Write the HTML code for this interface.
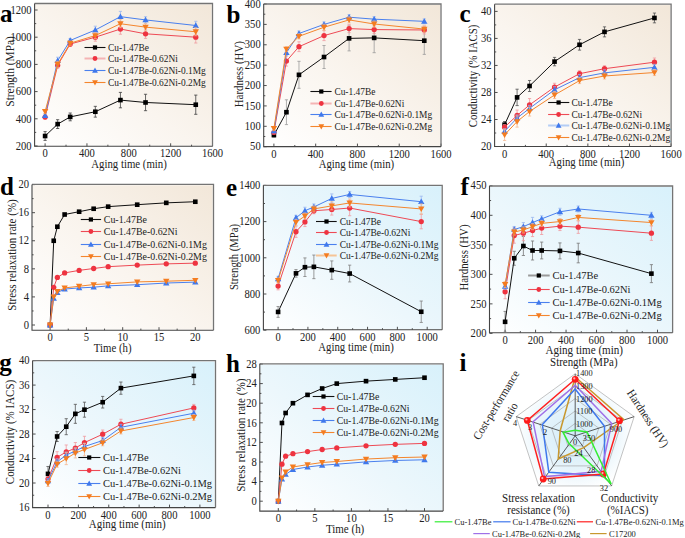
<!DOCTYPE html>
<html><head><meta charset="utf-8"><title>figure</title>
<style>html,body{margin:0;padding:0;background:#fff;width:685px;height:538px;overflow:hidden}svg{display:block}</style>
</head><body><svg width="685" height="538" viewBox="0 0 685 538" font-family='"Liberation Serif", serif'><defs>
<linearGradient id="gtan" x1="0" y1="1" x2="1" y2="0">
  <stop offset="0" stop-color="#ffffff"/>
  <stop offset="0.45" stop-color="#faf5ef"/>
  <stop offset="1" stop-color="#f2e7d9"/>
</linearGradient>
<linearGradient id="gblue" x1="0" y1="1" x2="1" y2="0">
  <stop offset="0" stop-color="#ffffff"/>
  <stop offset="0.45" stop-color="#ecf7fc"/>
  <stop offset="1" stop-color="#d8f1fb"/>
</linearGradient>
<radialGradient id="grad" cx="0.5" cy="0.55" r="0.5">
  <stop offset="0" stop-color="#d2ecf8"/>
  <stop offset="0.6" stop-color="#e6f4fb"/>
  <stop offset="1" stop-color="#ffffff"/>
</radialGradient>
</defs><rect width="685" height="538" fill="#ffffff"/>
<rect x="35.2" y="4.4" width="176.4" height="141.3" fill="url(#gtan)"/>
<line x1="45.1" y1="146.3" x2="45.1" y2="143.3" stroke="#3c3c3c" stroke-width="0.9"/>
<text font-size="10.6" text-anchor="middle" fill="#222222" transform="translate(45.1 157.3) scale(1 1.08)">0</text>
<line x1="86.95" y1="146.3" x2="86.95" y2="143.3" stroke="#3c3c3c" stroke-width="0.9"/>
<text font-size="10.6" text-anchor="middle" fill="#222222" transform="translate(86.95 157.3) scale(1 1.08)">400</text>
<line x1="128.8" y1="146.3" x2="128.8" y2="143.3" stroke="#3c3c3c" stroke-width="0.9"/>
<text font-size="10.6" text-anchor="middle" fill="#222222" transform="translate(128.8 157.3) scale(1 1.08)">800</text>
<line x1="170.65" y1="146.3" x2="170.65" y2="143.3" stroke="#3c3c3c" stroke-width="0.9"/>
<text font-size="10.6" text-anchor="middle" fill="#222222" transform="translate(170.65 157.3) scale(1 1.08)">1200</text>
<line x1="212.5" y1="146.3" x2="212.5" y2="143.3" stroke="#3c3c3c" stroke-width="0.9"/>
<text font-size="10.6" text-anchor="middle" fill="#222222" transform="translate(212.5 157.3) scale(1 1.08)">1600</text>
<line x1="66.03" y1="146.3" x2="66.03" y2="144.7" stroke="#3c3c3c" stroke-width="0.9"/>
<line x1="107.88" y1="146.3" x2="107.88" y2="144.7" stroke="#3c3c3c" stroke-width="0.9"/>
<line x1="149.72" y1="146.3" x2="149.72" y2="144.7" stroke="#3c3c3c" stroke-width="0.9"/>
<line x1="191.57" y1="146.3" x2="191.57" y2="144.7" stroke="#3c3c3c" stroke-width="0.9"/>
<line x1="34.6" y1="146" x2="37.6" y2="146" stroke="#3c3c3c" stroke-width="0.9"/>
<text font-size="10.6" text-anchor="end" fill="#222222" transform="translate(31.6 149.7) scale(1 1.08)">200</text>
<line x1="34.6" y1="118.8" x2="37.6" y2="118.8" stroke="#3c3c3c" stroke-width="0.9"/>
<text font-size="10.6" text-anchor="end" fill="#222222" transform="translate(31.6 122.5) scale(1 1.08)">400</text>
<line x1="34.6" y1="91.6" x2="37.6" y2="91.6" stroke="#3c3c3c" stroke-width="0.9"/>
<text font-size="10.6" text-anchor="end" fill="#222222" transform="translate(31.6 95.3) scale(1 1.08)">600</text>
<line x1="34.6" y1="64.4" x2="37.6" y2="64.4" stroke="#3c3c3c" stroke-width="0.9"/>
<text font-size="10.6" text-anchor="end" fill="#222222" transform="translate(31.6 68.1) scale(1 1.08)">800</text>
<line x1="34.6" y1="37.2" x2="37.6" y2="37.2" stroke="#3c3c3c" stroke-width="0.9"/>
<text font-size="10.6" text-anchor="end" fill="#222222" transform="translate(31.6 40.9) scale(1 1.08)">1000</text>
<line x1="34.6" y1="10" x2="37.6" y2="10" stroke="#3c3c3c" stroke-width="0.9"/>
<text font-size="10.6" text-anchor="end" fill="#222222" transform="translate(31.6 13.7) scale(1 1.08)">1200</text>
<line x1="34.6" y1="132.4" x2="36.2" y2="132.4" stroke="#3c3c3c" stroke-width="0.9"/>
<line x1="34.6" y1="105.2" x2="36.2" y2="105.2" stroke="#3c3c3c" stroke-width="0.9"/>
<line x1="34.6" y1="78" x2="36.2" y2="78" stroke="#3c3c3c" stroke-width="0.9"/>
<line x1="34.6" y1="50.8" x2="36.2" y2="50.8" stroke="#3c3c3c" stroke-width="0.9"/>
<line x1="34.6" y1="23.6" x2="36.2" y2="23.6" stroke="#3c3c3c" stroke-width="0.9"/>
<path d="M34.6 3.5H212.5V146.3" fill="none" stroke="#747474" stroke-width="1.3"/>
<path d="M34.6 3.5V146.3H212.5" fill="none" stroke="#444444" stroke-width="1.1"/>
<path d="M45.1 131.6V140.4M43.5 131.6H46.7M43.5 140.4H46.7" stroke="#404040" stroke-width="0.8" fill="none"/>
<path d="M57.66 119.7V128.5M56.05 119.7H59.26M56.05 128.5H59.26" stroke="#404040" stroke-width="0.8" fill="none"/>
<path d="M70.21 113V120.8M68.61 113H71.81M68.61 120.8H71.81" stroke="#404040" stroke-width="0.8" fill="none"/>
<path d="M95.32 106.33V117.13M93.72 106.33H96.92M93.72 117.13H96.92" stroke="#404040" stroke-width="0.8" fill="none"/>
<path d="M120.43 92.4V107.8M118.83 92.4H122.03M118.83 107.8H122.03" stroke="#404040" stroke-width="0.8" fill="none"/>
<path d="M145.54 94.28V110.68M143.94 94.28H147.14M143.94 110.68H147.14" stroke="#404040" stroke-width="0.8" fill="none"/>
<path d="M195.76 95.1V114.3M194.16 95.1H197.36M194.16 114.3H197.36" stroke="#404040" stroke-width="0.8" fill="none"/>
<polyline points="45.1,136 57.66,124.1 70.21,116.9 95.32,111.73 120.43,100.1 145.54,102.48 195.76,104.7" fill="none" stroke="#111111" stroke-width="1.0" stroke-linejoin="round"/>
<rect x="42.79" y="133.69" width="4.62" height="4.62" fill="#000000"/>
<rect x="55.34" y="121.79" width="4.62" height="4.62" fill="#000000"/>
<rect x="67.9" y="114.59" width="4.62" height="4.62" fill="#000000"/>
<rect x="93.01" y="109.42" width="4.62" height="4.62" fill="#000000"/>
<rect x="118.12" y="97.79" width="4.62" height="4.62" fill="#000000"/>
<rect x="143.23" y="100.17" width="4.62" height="4.62" fill="#000000"/>
<rect x="193.45" y="102.39" width="4.62" height="4.62" fill="#000000"/>
<path d="M45.1 115.1V119.1M43.5 115.1H46.7M43.5 119.1H46.7" stroke="#f09aa0" stroke-width="0.8" fill="none"/>
<path d="M57.66 62.35V68.35M56.05 62.35H59.26M56.05 68.35H59.26" stroke="#f09aa0" stroke-width="0.8" fill="none"/>
<path d="M70.21 41.5V46.5M68.61 41.5H71.81M68.61 46.5H71.81" stroke="#f09aa0" stroke-width="0.8" fill="none"/>
<path d="M95.32 33.2V41.2M93.72 33.2H96.92M93.72 41.2H96.92" stroke="#f09aa0" stroke-width="0.8" fill="none"/>
<path d="M120.43 23.84V34.24M118.83 23.84H122.03M118.83 34.24H122.03" stroke="#f09aa0" stroke-width="0.8" fill="none"/>
<path d="M145.54 29.2V38.4M143.94 29.2H147.14M143.94 38.4H147.14" stroke="#f09aa0" stroke-width="0.8" fill="none"/>
<path d="M195.76 31.4V43M194.16 31.4H197.36M194.16 43H197.36" stroke="#f09aa0" stroke-width="0.8" fill="none"/>
<polyline points="45.1,117.1 57.66,65.35 70.21,44 95.32,37.2 120.43,29.04 145.54,33.8 195.76,37.2" fill="none" stroke="#ee4a55" stroke-width="1.0" stroke-linejoin="round"/>
<circle cx="45.1" cy="117.1" r="2.64" fill="#EE3340"/>
<circle cx="57.66" cy="65.35" r="2.64" fill="#EE3340"/>
<circle cx="70.21" cy="44" r="2.64" fill="#EE3340"/>
<circle cx="95.32" cy="37.2" r="2.64" fill="#EE3340"/>
<circle cx="120.43" cy="29.04" r="2.64" fill="#EE3340"/>
<circle cx="145.54" cy="33.8" r="2.64" fill="#EE3340"/>
<circle cx="195.76" cy="37.2" r="2.64" fill="#EE3340"/>
<path d="M45.1 113.54V117.54M43.5 113.54H46.7M43.5 117.54H46.7" stroke="#9ab8f0" stroke-width="0.8" fill="none"/>
<path d="M57.66 57.23V64.23M56.05 57.23H59.26M56.05 64.23H59.26" stroke="#9ab8f0" stroke-width="0.8" fill="none"/>
<path d="M70.21 38.46V42.46M68.61 38.46H71.81M68.61 42.46H71.81" stroke="#9ab8f0" stroke-width="0.8" fill="none"/>
<path d="M95.32 26.19V33.79M93.72 26.19H96.92M93.72 33.79H96.92" stroke="#9ab8f0" stroke-width="0.8" fill="none"/>
<path d="M120.43 11.36V21.96M118.83 11.36H122.03M118.83 21.96H122.03" stroke="#9ab8f0" stroke-width="0.8" fill="none"/>
<path d="M145.54 16.73V23.13M143.94 16.73H147.14M143.94 23.13H147.14" stroke="#9ab8f0" stroke-width="0.8" fill="none"/>
<path d="M195.76 21.3V29.7M194.16 21.3H197.36M194.16 29.7H197.36" stroke="#9ab8f0" stroke-width="0.8" fill="none"/>
<polyline points="45.1,115.54 57.66,60.73 70.21,40.46 95.32,29.99 120.43,16.66 145.54,19.93 195.76,25.5" fill="none" stroke="#4a80ee" stroke-width="1.0" stroke-linejoin="round"/>
<path d="M45.1 112.35L48.29 117.93L41.91 117.93Z" fill="#3F78EC"/>
<path d="M57.66 57.54L60.84 63.12L54.47 63.12Z" fill="#3F78EC"/>
<path d="M70.21 37.27L73.4 42.86L67.02 42.86Z" fill="#3F78EC"/>
<path d="M95.32 26.8L98.51 32.38L92.13 32.38Z" fill="#3F78EC"/>
<path d="M120.43 13.47L123.62 19.06L117.24 19.06Z" fill="#3F78EC"/>
<path d="M145.54 16.74L148.73 22.32L142.35 22.32Z" fill="#3F78EC"/>
<path d="M195.76 22.31L198.95 27.9L192.57 27.9Z" fill="#3F78EC"/>
<path d="M45.1 109.5V113.5M43.5 109.5H46.7M43.5 113.5H46.7" stroke="#f5b890" stroke-width="0.8" fill="none"/>
<path d="M57.66 61.26V67.26M56.05 61.26H59.26M56.05 67.26H59.26" stroke="#f5b890" stroke-width="0.8" fill="none"/>
<path d="M70.21 41.18V45.18M68.61 41.18H71.81M68.61 45.18H71.81" stroke="#f5b890" stroke-width="0.8" fill="none"/>
<path d="M95.32 32.57V38.57M93.72 32.57H96.92M93.72 38.57H96.92" stroke="#f5b890" stroke-width="0.8" fill="none"/>
<path d="M120.43 19.74V27.74M118.83 19.74H122.03M118.83 27.74H122.03" stroke="#f5b890" stroke-width="0.8" fill="none"/>
<path d="M145.54 23.64V30.64M143.94 23.64H147.14M143.94 30.64H147.14" stroke="#f5b890" stroke-width="0.8" fill="none"/>
<path d="M195.76 27.76V35.76M194.16 27.76H197.36M194.16 35.76H197.36" stroke="#f5b890" stroke-width="0.8" fill="none"/>
<polyline points="45.1,111.5 57.66,64.26 70.21,43.18 95.32,35.57 120.43,23.74 145.54,27.14 195.76,31.76" fill="none" stroke="#f4862e" stroke-width="1.0" stroke-linejoin="round"/>
<path d="M45.1 114.69L48.29 109.1L41.91 109.1Z" fill="#F47C20"/>
<path d="M57.66 67.45L60.84 61.87L54.47 61.87Z" fill="#F47C20"/>
<path d="M70.21 46.37L73.4 40.79L67.02 40.79Z" fill="#F47C20"/>
<path d="M95.32 38.76L98.51 33.18L92.13 33.18Z" fill="#F47C20"/>
<path d="M120.43 26.93L123.62 21.34L117.24 21.34Z" fill="#F47C20"/>
<path d="M145.54 30.33L148.73 24.74L142.35 24.74Z" fill="#F47C20"/>
<path d="M195.76 34.95L198.95 29.37L192.57 29.37Z" fill="#F47C20"/>
<line x1="84.5" y1="47.5" x2="105.5" y2="47.5" stroke="#111111" stroke-width="1.1"/>
<rect x="92.9" y="45.4" width="4.2" height="4.2" fill="#000000"/>
<text font-size="9.4" text-anchor="start" fill="#222222" transform="translate(108 50.7) scale(1 1.08)">Cu-1.47Be</text>
<line x1="84.5" y1="58.5" x2="105.5" y2="58.5" stroke="#f5b4b4" stroke-width="2.0"/>
<circle cx="95" cy="58.5" r="2.4" fill="#EE3340"/>
<text font-size="9.4" text-anchor="start" fill="#222222" transform="translate(108 61.7) scale(1 1.08)">Cu-1.47Be-0.62Ni</text>
<line x1="84.5" y1="70.5" x2="105.5" y2="70.5" stroke="#4a80ee" stroke-width="1.1"/>
<path d="M95 67.6L97.9 72.67L92.1 72.67Z" fill="#3F78EC"/>
<text font-size="9.4" text-anchor="start" fill="#222222" transform="translate(108 73.7) scale(1 1.08)">Cu-1.47Be-0.62Ni-0.1Mg</text>
<line x1="84.5" y1="82.5" x2="105.5" y2="82.5" stroke="#f4862e" stroke-width="1.1"/>
<path d="M95 85.4L97.9 80.33L92.1 80.33Z" fill="#F47C20"/>
<text font-size="9.4" text-anchor="start" fill="#222222" transform="translate(108 85.7) scale(1 1.08)">Cu-1.47Be-0.62Ni-0.2Mg</text>
<text font-size="10.8" text-anchor="middle" fill="#222222" transform="translate(129 167.5) scale(1 1.08)">Aging time (min)</text>
<text font-size="11.4" text-anchor="middle" fill="#222222" transform="translate(9.6 71.4) rotate(-90) scale(1 1.08)" dominant-baseline="central">Strength (MPa)</text>
<rect x="264.3" y="4.9" width="175.8" height="141.1" fill="url(#gtan)"/>
<line x1="273.9" y1="146.6" x2="273.9" y2="143.6" stroke="#3c3c3c" stroke-width="0.9"/>
<text font-size="10.6" text-anchor="middle" fill="#222222" transform="translate(273.9 157.6) scale(1 1.08)">0</text>
<line x1="315.68" y1="146.6" x2="315.68" y2="143.6" stroke="#3c3c3c" stroke-width="0.9"/>
<text font-size="10.6" text-anchor="middle" fill="#222222" transform="translate(315.68 157.6) scale(1 1.08)">400</text>
<line x1="357.45" y1="146.6" x2="357.45" y2="143.6" stroke="#3c3c3c" stroke-width="0.9"/>
<text font-size="10.6" text-anchor="middle" fill="#222222" transform="translate(357.45 157.6) scale(1 1.08)">800</text>
<line x1="399.23" y1="146.6" x2="399.23" y2="143.6" stroke="#3c3c3c" stroke-width="0.9"/>
<text font-size="10.6" text-anchor="middle" fill="#222222" transform="translate(399.23 157.6) scale(1 1.08)">1200</text>
<line x1="441" y1="146.6" x2="441" y2="143.6" stroke="#3c3c3c" stroke-width="0.9"/>
<text font-size="10.6" text-anchor="middle" fill="#222222" transform="translate(441 157.6) scale(1 1.08)">1600</text>
<line x1="294.79" y1="146.6" x2="294.79" y2="145" stroke="#3c3c3c" stroke-width="0.9"/>
<line x1="336.56" y1="146.6" x2="336.56" y2="145" stroke="#3c3c3c" stroke-width="0.9"/>
<line x1="378.34" y1="146.6" x2="378.34" y2="145" stroke="#3c3c3c" stroke-width="0.9"/>
<line x1="420.12" y1="146.6" x2="420.12" y2="145" stroke="#3c3c3c" stroke-width="0.9"/>
<line x1="263.7" y1="146.68" x2="266.7" y2="146.68" stroke="#3c3c3c" stroke-width="0.9"/>
<text font-size="10.6" text-anchor="end" fill="#222222" transform="translate(260.7 150.38) scale(1 1.08)">50</text>
<line x1="263.7" y1="126.3" x2="266.7" y2="126.3" stroke="#3c3c3c" stroke-width="0.9"/>
<text font-size="10.6" text-anchor="end" fill="#222222" transform="translate(260.7 130) scale(1 1.08)">100</text>
<line x1="263.7" y1="105.92" x2="266.7" y2="105.92" stroke="#3c3c3c" stroke-width="0.9"/>
<text font-size="10.6" text-anchor="end" fill="#222222" transform="translate(260.7 109.62) scale(1 1.08)">150</text>
<line x1="263.7" y1="85.54" x2="266.7" y2="85.54" stroke="#3c3c3c" stroke-width="0.9"/>
<text font-size="10.6" text-anchor="end" fill="#222222" transform="translate(260.7 89.24) scale(1 1.08)">200</text>
<line x1="263.7" y1="65.16" x2="266.7" y2="65.16" stroke="#3c3c3c" stroke-width="0.9"/>
<text font-size="10.6" text-anchor="end" fill="#222222" transform="translate(260.7 68.86) scale(1 1.08)">250</text>
<line x1="263.7" y1="44.78" x2="266.7" y2="44.78" stroke="#3c3c3c" stroke-width="0.9"/>
<text font-size="10.6" text-anchor="end" fill="#222222" transform="translate(260.7 48.48) scale(1 1.08)">300</text>
<line x1="263.7" y1="24.4" x2="266.7" y2="24.4" stroke="#3c3c3c" stroke-width="0.9"/>
<text font-size="10.6" text-anchor="end" fill="#222222" transform="translate(260.7 28.1) scale(1 1.08)">350</text>
<line x1="263.7" y1="4.02" x2="266.7" y2="4.02" stroke="#3c3c3c" stroke-width="0.9"/>
<text font-size="10.6" text-anchor="end" fill="#222222" transform="translate(260.7 7.72) scale(1 1.08)">400</text>
<line x1="263.7" y1="136.49" x2="265.3" y2="136.49" stroke="#3c3c3c" stroke-width="0.9"/>
<line x1="263.7" y1="116.11" x2="265.3" y2="116.11" stroke="#3c3c3c" stroke-width="0.9"/>
<line x1="263.7" y1="95.73" x2="265.3" y2="95.73" stroke="#3c3c3c" stroke-width="0.9"/>
<line x1="263.7" y1="75.35" x2="265.3" y2="75.35" stroke="#3c3c3c" stroke-width="0.9"/>
<line x1="263.7" y1="54.97" x2="265.3" y2="54.97" stroke="#3c3c3c" stroke-width="0.9"/>
<line x1="263.7" y1="34.59" x2="265.3" y2="34.59" stroke="#3c3c3c" stroke-width="0.9"/>
<line x1="263.7" y1="14.21" x2="265.3" y2="14.21" stroke="#3c3c3c" stroke-width="0.9"/>
<path d="M263.7 4H441V146.6" fill="none" stroke="#747474" stroke-width="1.3"/>
<path d="M263.7 4V146.6H441" fill="none" stroke="#444444" stroke-width="1.1"/>
<path d="M273.9 133.1V137.1M272.3 133.1H275.5M272.3 137.1H275.5" stroke="#9a9a9a" stroke-width="0.8" fill="none"/>
<path d="M286.43 99.8V124.6M284.83 99.8H288.03M284.83 124.6H288.03" stroke="#9a9a9a" stroke-width="0.8" fill="none"/>
<path d="M298.97 61.32V88.32M297.37 61.32H300.57M297.37 88.32H300.57" stroke="#9a9a9a" stroke-width="0.8" fill="none"/>
<path d="M324.03 45.51V68.51M322.43 45.51H325.63M322.43 68.51H325.63" stroke="#9a9a9a" stroke-width="0.8" fill="none"/>
<path d="M349.1 25.88V50.88M347.5 25.88H350.7M347.5 50.88H350.7" stroke="#9a9a9a" stroke-width="0.8" fill="none"/>
<path d="M374.16 23.09V52.69M372.56 23.09H375.76M372.56 52.69H375.76" stroke="#9a9a9a" stroke-width="0.8" fill="none"/>
<path d="M424.29 27V54.4M422.69 27H425.89M422.69 54.4H425.89" stroke="#9a9a9a" stroke-width="0.8" fill="none"/>
<polyline points="273.9,135.1 286.43,112.2 298.97,74.82 324.03,57.01 349.1,38.38 374.16,37.89 424.29,40.7" fill="none" stroke="#111111" stroke-width="1.0" stroke-linejoin="round"/>
<rect x="271.59" y="132.79" width="4.62" height="4.62" fill="#000000"/>
<rect x="284.12" y="109.89" width="4.62" height="4.62" fill="#000000"/>
<rect x="296.66" y="72.51" width="4.62" height="4.62" fill="#000000"/>
<rect x="321.72" y="54.7" width="4.62" height="4.62" fill="#000000"/>
<rect x="346.79" y="36.07" width="4.62" height="4.62" fill="#000000"/>
<rect x="371.85" y="35.58" width="4.62" height="4.62" fill="#000000"/>
<rect x="421.98" y="38.39" width="4.62" height="4.62" fill="#000000"/>
<path d="M273.9 130.29V134.29M272.3 130.29H275.5M272.3 134.29H275.5" stroke="#f09aa0" stroke-width="0.8" fill="none"/>
<path d="M286.43 56.08V66.08M284.83 56.08H288.03M284.83 66.08H288.03" stroke="#f09aa0" stroke-width="0.8" fill="none"/>
<path d="M298.97 41.8V51.6M297.37 41.8H300.57M297.37 51.6H300.57" stroke="#f09aa0" stroke-width="0.8" fill="none"/>
<path d="M324.03 30.61V40.61M322.43 30.61H325.63M322.43 40.61H325.63" stroke="#f09aa0" stroke-width="0.8" fill="none"/>
<path d="M349.1 24.6V32.6M347.5 24.6H350.7M347.5 32.6H350.7" stroke="#f09aa0" stroke-width="0.8" fill="none"/>
<path d="M374.16 25.58V33.58M372.56 25.58H375.76M372.56 33.58H375.76" stroke="#f09aa0" stroke-width="0.8" fill="none"/>
<path d="M424.29 25.98V33.98M422.69 25.98H425.89M422.69 33.98H425.89" stroke="#f09aa0" stroke-width="0.8" fill="none"/>
<polyline points="273.9,132.29 286.43,61.08 298.97,46.7 324.03,35.61 349.1,28.6 374.16,29.58 424.29,29.98" fill="none" stroke="#ee4a55" stroke-width="1.0" stroke-linejoin="round"/>
<circle cx="273.9" cy="132.29" r="2.64" fill="#EE3340"/>
<circle cx="286.43" cy="61.08" r="2.64" fill="#EE3340"/>
<circle cx="298.97" cy="46.7" r="2.64" fill="#EE3340"/>
<circle cx="324.03" cy="35.61" r="2.64" fill="#EE3340"/>
<circle cx="349.1" cy="28.6" r="2.64" fill="#EE3340"/>
<circle cx="374.16" cy="29.58" r="2.64" fill="#EE3340"/>
<circle cx="424.29" cy="29.98" r="2.64" fill="#EE3340"/>
<path d="M273.9 128.91V132.91M272.3 128.91H275.5M272.3 132.91H275.5" stroke="#9ab8f0" stroke-width="0.8" fill="none"/>
<path d="M286.43 50.23V55.23M284.83 50.23H288.03M284.83 55.23H288.03" stroke="#9ab8f0" stroke-width="0.8" fill="none"/>
<path d="M298.97 30.99V35.99M297.37 30.99H300.57M297.37 35.99H300.57" stroke="#9ab8f0" stroke-width="0.8" fill="none"/>
<path d="M324.03 21.9V26.9M322.43 21.9H325.63M322.43 26.9H325.63" stroke="#9ab8f0" stroke-width="0.8" fill="none"/>
<path d="M349.1 14.69V19.69M347.5 14.69H350.7M347.5 19.69H350.7" stroke="#9ab8f0" stroke-width="0.8" fill="none"/>
<path d="M374.16 16.68V21.68M372.56 16.68H375.76M372.56 21.68H375.76" stroke="#9ab8f0" stroke-width="0.8" fill="none"/>
<path d="M424.29 18.84V23.84M422.69 18.84H425.89M422.69 23.84H425.89" stroke="#9ab8f0" stroke-width="0.8" fill="none"/>
<polyline points="273.9,130.91 286.43,52.73 298.97,33.49 324.03,24.4 349.1,17.19 374.16,19.18 424.29,21.34" fill="none" stroke="#4a80ee" stroke-width="1.0" stroke-linejoin="round"/>
<path d="M273.9 127.72L277.09 133.3L270.71 133.3Z" fill="#3F78EC"/>
<path d="M286.43 49.54L289.62 55.12L283.24 55.12Z" fill="#3F78EC"/>
<path d="M298.97 30.3L302.16 35.88L295.78 35.88Z" fill="#3F78EC"/>
<path d="M324.03 21.21L327.22 26.79L320.84 26.79Z" fill="#3F78EC"/>
<path d="M349.1 14L352.29 19.58L345.91 19.58Z" fill="#3F78EC"/>
<path d="M374.16 15.99L377.35 21.58L370.97 21.58Z" fill="#3F78EC"/>
<path d="M424.29 18.15L427.48 23.74L421.1 23.74Z" fill="#3F78EC"/>
<path d="M273.9 126.5V130.5M272.3 126.5H275.5M272.3 130.5H275.5" stroke="#f5b890" stroke-width="0.8" fill="none"/>
<path d="M286.43 46.7V51.5M284.83 46.7H288.03M284.83 51.5H288.03" stroke="#f5b890" stroke-width="0.8" fill="none"/>
<path d="M298.97 33.8V38.8M297.37 33.8H300.57M297.37 38.8H300.57" stroke="#f5b890" stroke-width="0.8" fill="none"/>
<path d="M324.03 24.25V30.25M322.43 24.25H325.63M322.43 30.25H325.63" stroke="#f5b890" stroke-width="0.8" fill="none"/>
<path d="M349.1 16.92V22.92M347.5 16.92H350.7M347.5 22.92H350.7" stroke="#f5b890" stroke-width="0.8" fill="none"/>
<path d="M374.16 20.99V26.99M372.56 20.99H375.76M372.56 26.99H375.76" stroke="#f5b890" stroke-width="0.8" fill="none"/>
<path d="M424.29 26.09V32.09M422.69 26.09H425.89M422.69 32.09H425.89" stroke="#f5b890" stroke-width="0.8" fill="none"/>
<polyline points="273.9,128.5 286.43,49.1 298.97,36.3 324.03,27.25 349.1,19.92 374.16,23.99 424.29,29.09" fill="none" stroke="#f4862e" stroke-width="1.0" stroke-linejoin="round"/>
<path d="M273.9 131.69L277.09 126.11L270.71 126.11Z" fill="#F47C20"/>
<path d="M286.43 52.29L289.62 46.71L283.24 46.71Z" fill="#F47C20"/>
<path d="M298.97 39.49L302.16 33.91L295.78 33.91Z" fill="#F47C20"/>
<path d="M324.03 30.44L327.22 24.86L320.84 24.86Z" fill="#F47C20"/>
<path d="M349.1 23.11L352.29 17.52L345.91 17.52Z" fill="#F47C20"/>
<path d="M374.16 27.18L377.35 21.6L370.97 21.6Z" fill="#F47C20"/>
<path d="M424.29 32.28L427.48 26.69L421.1 26.69Z" fill="#F47C20"/>
<line x1="310.4" y1="91.5" x2="331.6" y2="91.5" stroke="#111111" stroke-width="1.1"/>
<rect x="319.2" y="89.4" width="4.2" height="4.2" fill="#000000"/>
<text font-size="9.4" text-anchor="start" fill="#222222" transform="translate(334.4 94.7) scale(1 1.08)">Cu-1.47Be</text>
<line x1="310.4" y1="103.5" x2="331.6" y2="103.5" stroke="#f5b4b4" stroke-width="2.0"/>
<circle cx="321.3" cy="103.5" r="2.4" fill="#EE3340"/>
<text font-size="9.4" text-anchor="start" fill="#222222" transform="translate(334.4 106.7) scale(1 1.08)">Cu-1.47Be-0.62Ni</text>
<line x1="310.4" y1="114.5" x2="331.6" y2="114.5" stroke="#4a80ee" stroke-width="1.1"/>
<path d="M321.3 111.6L324.2 116.67L318.4 116.67Z" fill="#3F78EC"/>
<text font-size="9.4" text-anchor="start" fill="#222222" transform="translate(334.4 117.7) scale(1 1.08)">Cu-1.47Be-0.62Ni-0.1Mg</text>
<line x1="310.4" y1="126.5" x2="331.6" y2="126.5" stroke="#f4862e" stroke-width="1.1"/>
<path d="M321.3 129.4L324.2 124.33L318.4 124.33Z" fill="#F47C20"/>
<text font-size="9.4" text-anchor="start" fill="#222222" transform="translate(334.4 129.7) scale(1 1.08)">Cu-1.47Be-0.62Ni-0.2Mg</text>
<text font-size="10.8" text-anchor="middle" fill="#222222" transform="translate(356.4 167.5) scale(1 1.08)">Aging time (min)</text>
<text font-size="10.9" text-anchor="middle" fill="#222222" transform="translate(238.4 74.2) rotate(-90) scale(1 1.08)" dominant-baseline="central">Hardness (HV)</text>
<rect x="495.2" y="5.1" width="175" height="140.8" fill="url(#gtan)"/>
<line x1="504.6" y1="146.5" x2="504.6" y2="143.5" stroke="#3c3c3c" stroke-width="0.9"/>
<text font-size="10.6" text-anchor="middle" fill="#222222" transform="translate(504.6 157.5) scale(1 1.08)">0</text>
<line x1="546.22" y1="146.5" x2="546.22" y2="143.5" stroke="#3c3c3c" stroke-width="0.9"/>
<text font-size="10.6" text-anchor="middle" fill="#222222" transform="translate(546.22 157.5) scale(1 1.08)">400</text>
<line x1="587.85" y1="146.5" x2="587.85" y2="143.5" stroke="#3c3c3c" stroke-width="0.9"/>
<text font-size="10.6" text-anchor="middle" fill="#222222" transform="translate(587.85 157.5) scale(1 1.08)">800</text>
<line x1="629.47" y1="146.5" x2="629.47" y2="143.5" stroke="#3c3c3c" stroke-width="0.9"/>
<text font-size="10.6" text-anchor="middle" fill="#222222" transform="translate(629.47 157.5) scale(1 1.08)">1200</text>
<line x1="671.1" y1="146.5" x2="671.1" y2="143.5" stroke="#3c3c3c" stroke-width="0.9"/>
<text font-size="10.6" text-anchor="middle" fill="#222222" transform="translate(671.1 157.5) scale(1 1.08)">1600</text>
<line x1="525.41" y1="146.5" x2="525.41" y2="144.9" stroke="#3c3c3c" stroke-width="0.9"/>
<line x1="567.04" y1="146.5" x2="567.04" y2="144.9" stroke="#3c3c3c" stroke-width="0.9"/>
<line x1="608.66" y1="146.5" x2="608.66" y2="144.9" stroke="#3c3c3c" stroke-width="0.9"/>
<line x1="650.28" y1="146.5" x2="650.28" y2="144.9" stroke="#3c3c3c" stroke-width="0.9"/>
<line x1="494.6" y1="146.52" x2="497.6" y2="146.52" stroke="#3c3c3c" stroke-width="0.9"/>
<text font-size="10.6" text-anchor="end" fill="#222222" transform="translate(491.6 150.22) scale(1 1.08)">20</text>
<line x1="494.6" y1="119.5" x2="497.6" y2="119.5" stroke="#3c3c3c" stroke-width="0.9"/>
<text font-size="10.6" text-anchor="end" fill="#222222" transform="translate(491.6 123.2) scale(1 1.08)">24</text>
<line x1="494.6" y1="92.47" x2="497.6" y2="92.47" stroke="#3c3c3c" stroke-width="0.9"/>
<text font-size="10.6" text-anchor="end" fill="#222222" transform="translate(491.6 96.17) scale(1 1.08)">28</text>
<line x1="494.6" y1="65.45" x2="497.6" y2="65.45" stroke="#3c3c3c" stroke-width="0.9"/>
<text font-size="10.6" text-anchor="end" fill="#222222" transform="translate(491.6 69.15) scale(1 1.08)">32</text>
<line x1="494.6" y1="38.42" x2="497.6" y2="38.42" stroke="#3c3c3c" stroke-width="0.9"/>
<text font-size="10.6" text-anchor="end" fill="#222222" transform="translate(491.6 42.12) scale(1 1.08)">36</text>
<line x1="494.6" y1="11.4" x2="497.6" y2="11.4" stroke="#3c3c3c" stroke-width="0.9"/>
<text font-size="10.6" text-anchor="end" fill="#222222" transform="translate(491.6 15.1) scale(1 1.08)">40</text>
<line x1="494.6" y1="133.01" x2="496.2" y2="133.01" stroke="#3c3c3c" stroke-width="0.9"/>
<line x1="494.6" y1="105.98" x2="496.2" y2="105.98" stroke="#3c3c3c" stroke-width="0.9"/>
<line x1="494.6" y1="78.96" x2="496.2" y2="78.96" stroke="#3c3c3c" stroke-width="0.9"/>
<line x1="494.6" y1="51.94" x2="496.2" y2="51.94" stroke="#3c3c3c" stroke-width="0.9"/>
<line x1="494.6" y1="24.91" x2="496.2" y2="24.91" stroke="#3c3c3c" stroke-width="0.9"/>
<path d="M494.6 4.2H671.1V146.5" fill="none" stroke="#747474" stroke-width="1.3"/>
<path d="M494.6 4.2V146.5H671.1" fill="none" stroke="#444444" stroke-width="1.1"/>
<path d="M504.6 121.5V127.9M503 121.5H506.2M503 127.9H506.2" stroke="#505050" stroke-width="0.8" fill="none"/>
<path d="M517.09 89.2V105.6M515.49 89.2H518.69M515.49 105.6H518.69" stroke="#505050" stroke-width="0.8" fill="none"/>
<path d="M529.57 80.49V91.49M527.97 80.49H531.17M527.97 91.49H531.17" stroke="#505050" stroke-width="0.8" fill="none"/>
<path d="M554.55 57.4V65.8M552.95 57.4H556.15M552.95 65.8H556.15" stroke="#505050" stroke-width="0.8" fill="none"/>
<path d="M579.52 39.42V50.12M577.92 39.42H581.12M577.92 50.12H581.12" stroke="#505050" stroke-width="0.8" fill="none"/>
<path d="M604.5 26.87V36.87M602.9 26.87H606.1M602.9 36.87H606.1" stroke="#505050" stroke-width="0.8" fill="none"/>
<path d="M654.45 13.05V22.85M652.85 13.05H656.05M652.85 22.85H656.05" stroke="#505050" stroke-width="0.8" fill="none"/>
<polyline points="504.6,124.7 517.09,97.4 529.57,85.99 554.55,61.6 579.52,44.77 604.5,31.87 654.45,17.95" fill="none" stroke="#111111" stroke-width="1.0" stroke-linejoin="round"/>
<rect x="502.29" y="122.39" width="4.62" height="4.62" fill="#000000"/>
<rect x="514.78" y="95.09" width="4.62" height="4.62" fill="#000000"/>
<rect x="527.26" y="83.68" width="4.62" height="4.62" fill="#000000"/>
<rect x="552.24" y="59.29" width="4.62" height="4.62" fill="#000000"/>
<rect x="577.21" y="42.46" width="4.62" height="4.62" fill="#000000"/>
<rect x="602.19" y="29.56" width="4.62" height="4.62" fill="#000000"/>
<rect x="652.14" y="15.64" width="4.62" height="4.62" fill="#000000"/>
<path d="M504.6 124.63V129.63M503 124.63H506.2M503 129.63H506.2" stroke="#f09aa0" stroke-width="0.8" fill="none"/>
<path d="M517.09 110.04V120.84M515.49 110.04H518.69M515.49 120.84H518.69" stroke="#f09aa0" stroke-width="0.8" fill="none"/>
<path d="M529.57 98.54V111.14M527.97 98.54H531.17M527.97 111.14H531.17" stroke="#f09aa0" stroke-width="0.8" fill="none"/>
<path d="M554.55 83.27V90.87M552.95 83.27H556.15M552.95 90.87H556.15" stroke="#f09aa0" stroke-width="0.8" fill="none"/>
<path d="M579.52 70.69V76.69M577.92 70.69H581.12M577.92 76.69H581.12" stroke="#f09aa0" stroke-width="0.8" fill="none"/>
<path d="M604.5 65.69V71.69M602.9 65.69H606.1M602.9 71.69H606.1" stroke="#f09aa0" stroke-width="0.8" fill="none"/>
<path d="M654.45 58.01V66.41M652.85 58.01H656.05M652.85 66.41H656.05" stroke="#f09aa0" stroke-width="0.8" fill="none"/>
<polyline points="504.6,127.13 517.09,115.44 529.57,104.84 554.55,87.07 579.52,73.69 604.5,68.69 654.45,62.21" fill="none" stroke="#ee4a55" stroke-width="1.0" stroke-linejoin="round"/>
<circle cx="504.6" cy="127.13" r="2.64" fill="#EE3340"/>
<circle cx="517.09" cy="115.44" r="2.64" fill="#EE3340"/>
<circle cx="529.57" cy="104.84" r="2.64" fill="#EE3340"/>
<circle cx="554.55" cy="87.07" r="2.64" fill="#EE3340"/>
<circle cx="579.52" cy="73.69" r="2.64" fill="#EE3340"/>
<circle cx="604.5" cy="68.69" r="2.64" fill="#EE3340"/>
<circle cx="654.45" cy="62.21" r="2.64" fill="#EE3340"/>
<path d="M504.6 128.82V133.82M503 128.82H506.2M503 133.82H506.2" stroke="#9ab8f0" stroke-width="0.8" fill="none"/>
<path d="M517.09 115.01V121.01M515.49 115.01H518.69M515.49 121.01H518.69" stroke="#9ab8f0" stroke-width="0.8" fill="none"/>
<path d="M529.57 105.35V111.35M527.97 105.35H531.17M527.97 111.35H531.17" stroke="#9ab8f0" stroke-width="0.8" fill="none"/>
<path d="M554.55 86.77V92.77M552.95 86.77H556.15M552.95 92.77H556.15" stroke="#9ab8f0" stroke-width="0.8" fill="none"/>
<path d="M579.52 74.61V80.61M577.92 74.61H581.12M577.92 80.61H581.12" stroke="#9ab8f0" stroke-width="0.8" fill="none"/>
<path d="M604.5 69.88V75.88M602.9 69.88H606.1M602.9 75.88H606.1" stroke="#9ab8f0" stroke-width="0.8" fill="none"/>
<path d="M654.45 64.34V70.34M652.85 64.34H656.05M652.85 70.34H656.05" stroke="#9ab8f0" stroke-width="0.8" fill="none"/>
<polyline points="504.6,131.32 517.09,118.01 529.57,108.35 554.55,89.77 579.52,77.61 604.5,72.88 654.45,67.34" fill="none" stroke="#4a80ee" stroke-width="1.0" stroke-linejoin="round"/>
<path d="M504.6 128.13L507.79 133.71L501.41 133.71Z" fill="#3F78EC"/>
<path d="M517.09 114.82L520.28 120.4L513.9 120.4Z" fill="#3F78EC"/>
<path d="M529.57 105.16L532.76 110.74L526.38 110.74Z" fill="#3F78EC"/>
<path d="M554.55 86.58L557.74 92.16L551.36 92.16Z" fill="#3F78EC"/>
<path d="M579.52 74.42L582.71 80L576.33 80Z" fill="#3F78EC"/>
<path d="M604.5 69.69L607.69 75.27L601.31 75.27Z" fill="#3F78EC"/>
<path d="M654.45 64.15L657.64 69.73L651.26 69.73Z" fill="#3F78EC"/>
<path d="M504.6 129.23V140.43M503 129.23H506.2M503 140.43H506.2" stroke="#f5b890" stroke-width="0.8" fill="none"/>
<path d="M517.09 115.92V127.12M515.49 115.92H518.69M515.49 127.12H518.69" stroke="#f5b890" stroke-width="0.8" fill="none"/>
<path d="M529.57 107.02V116.02M527.97 107.02H531.17M527.97 116.02H531.17" stroke="#f5b890" stroke-width="0.8" fill="none"/>
<path d="M554.55 91.47V98.47M552.95 91.47H556.15M552.95 98.47H556.15" stroke="#f5b890" stroke-width="0.8" fill="none"/>
<path d="M579.52 77.58V83.58M577.92 77.58H581.12M577.92 83.58H581.12" stroke="#f5b890" stroke-width="0.8" fill="none"/>
<path d="M604.5 72.99V78.99M602.9 72.99H606.1M602.9 78.99H606.1" stroke="#f5b890" stroke-width="0.8" fill="none"/>
<path d="M654.45 69.54V75.54M652.85 69.54H656.05M652.85 75.54H656.05" stroke="#f5b890" stroke-width="0.8" fill="none"/>
<polyline points="504.6,134.83 517.09,121.52 529.57,111.52 554.55,94.97 579.52,80.58 604.5,75.99 654.45,72.54" fill="none" stroke="#f4862e" stroke-width="1.0" stroke-linejoin="round"/>
<path d="M504.6 138.02L507.79 132.44L501.41 132.44Z" fill="#F47C20"/>
<path d="M517.09 124.71L520.28 119.13L513.9 119.13Z" fill="#F47C20"/>
<path d="M529.57 114.71L532.76 109.13L526.38 109.13Z" fill="#F47C20"/>
<path d="M554.55 98.16L557.74 92.58L551.36 92.58Z" fill="#F47C20"/>
<path d="M579.52 83.77L582.71 78.19L576.33 78.19Z" fill="#F47C20"/>
<path d="M604.5 79.18L607.69 73.59L601.31 73.59Z" fill="#F47C20"/>
<path d="M654.45 75.73L657.64 70.15L651.26 70.15Z" fill="#F47C20"/>
<line x1="548.1" y1="102.5" x2="569.3" y2="102.5" stroke="#111111" stroke-width="1.1"/>
<rect x="556.5" y="100.4" width="4.2" height="4.2" fill="#000000"/>
<text font-size="9.5" text-anchor="start" fill="#222222" transform="translate(571.4 105.73) scale(1 1.08)">Cu-1.47Be</text>
<line x1="548.1" y1="114.5" x2="569.3" y2="114.5" stroke="#ee4a55" stroke-width="1.1"/>
<circle cx="558.6" cy="114.5" r="2.4" fill="#EE3340"/>
<text font-size="9.5" text-anchor="start" fill="#222222" transform="translate(571.4 117.73) scale(1 1.08)">Cu-1.47Be-0.62Ni</text>
<line x1="548.1" y1="125.5" x2="569.3" y2="125.5" stroke="#b4cdf5" stroke-width="2.0"/>
<path d="M558.6 122.6L561.5 127.67L555.7 127.67Z" fill="#3F78EC"/>
<text font-size="9.5" text-anchor="start" fill="#222222" transform="translate(571.4 128.73) scale(1 1.08)">Cu-1.47Be-0.62Ni-0.1Mg</text>
<line x1="548.1" y1="137.5" x2="569.3" y2="137.5" stroke="#f4862e" stroke-width="1.1"/>
<path d="M558.6 140.4L561.5 135.32L555.7 135.32Z" fill="#F47C20"/>
<text font-size="9.5" text-anchor="start" fill="#222222" transform="translate(571.4 140.73) scale(1 1.08)">Cu-1.47Be-0.62Ni-0.2Mg</text>
<text font-size="10.8" text-anchor="middle" fill="#222222" transform="translate(586.5 166.2) scale(1 1.08)">Aging time (min)</text>
<text font-size="10.8" text-anchor="middle" fill="#222222" transform="translate(472.8 75.9) rotate(-90) scale(1 1.08)" dominant-baseline="central">Conductivity (% IACS)</text>
<rect x="32.6" y="185.3" width="180" height="144.3" fill="url(#gtan)"/>
<line x1="50.1" y1="330.2" x2="50.1" y2="327.2" stroke="#3c3c3c" stroke-width="0.9"/>
<text font-size="10.6" text-anchor="middle" fill="#222222" transform="translate(50.1 341.2) scale(1 1.08)">0</text>
<line x1="86.4" y1="330.2" x2="86.4" y2="327.2" stroke="#3c3c3c" stroke-width="0.9"/>
<text font-size="10.6" text-anchor="middle" fill="#222222" transform="translate(86.4 341.2) scale(1 1.08)">5</text>
<line x1="122.7" y1="330.2" x2="122.7" y2="327.2" stroke="#3c3c3c" stroke-width="0.9"/>
<text font-size="10.6" text-anchor="middle" fill="#222222" transform="translate(122.7 341.2) scale(1 1.08)">10</text>
<line x1="159" y1="330.2" x2="159" y2="327.2" stroke="#3c3c3c" stroke-width="0.9"/>
<text font-size="10.6" text-anchor="middle" fill="#222222" transform="translate(159 341.2) scale(1 1.08)">15</text>
<line x1="195.3" y1="330.2" x2="195.3" y2="327.2" stroke="#3c3c3c" stroke-width="0.9"/>
<text font-size="10.6" text-anchor="middle" fill="#222222" transform="translate(195.3 341.2) scale(1 1.08)">20</text>
<line x1="68.25" y1="330.2" x2="68.25" y2="328.6" stroke="#3c3c3c" stroke-width="0.9"/>
<line x1="104.55" y1="330.2" x2="104.55" y2="328.6" stroke="#3c3c3c" stroke-width="0.9"/>
<line x1="140.85" y1="330.2" x2="140.85" y2="328.6" stroke="#3c3c3c" stroke-width="0.9"/>
<line x1="177.15" y1="330.2" x2="177.15" y2="328.6" stroke="#3c3c3c" stroke-width="0.9"/>
<line x1="32" y1="325" x2="35" y2="325" stroke="#3c3c3c" stroke-width="0.9"/>
<text font-size="10.6" text-anchor="end" fill="#222222" transform="translate(29 328.7) scale(1 1.08)">0</text>
<line x1="32" y1="296.92" x2="35" y2="296.92" stroke="#3c3c3c" stroke-width="0.9"/>
<text font-size="10.6" text-anchor="end" fill="#222222" transform="translate(29 300.62) scale(1 1.08)">4</text>
<line x1="32" y1="268.84" x2="35" y2="268.84" stroke="#3c3c3c" stroke-width="0.9"/>
<text font-size="10.6" text-anchor="end" fill="#222222" transform="translate(29 272.54) scale(1 1.08)">8</text>
<line x1="32" y1="240.76" x2="35" y2="240.76" stroke="#3c3c3c" stroke-width="0.9"/>
<text font-size="10.6" text-anchor="end" fill="#222222" transform="translate(29 244.46) scale(1 1.08)">12</text>
<line x1="32" y1="212.68" x2="35" y2="212.68" stroke="#3c3c3c" stroke-width="0.9"/>
<text font-size="10.6" text-anchor="end" fill="#222222" transform="translate(29 216.38) scale(1 1.08)">16</text>
<line x1="32" y1="184.6" x2="35" y2="184.6" stroke="#3c3c3c" stroke-width="0.9"/>
<text font-size="10.6" text-anchor="end" fill="#222222" transform="translate(29 188.3) scale(1 1.08)">20</text>
<line x1="32" y1="310.96" x2="33.6" y2="310.96" stroke="#3c3c3c" stroke-width="0.9"/>
<line x1="32" y1="282.88" x2="33.6" y2="282.88" stroke="#3c3c3c" stroke-width="0.9"/>
<line x1="32" y1="254.8" x2="33.6" y2="254.8" stroke="#3c3c3c" stroke-width="0.9"/>
<line x1="32" y1="226.72" x2="33.6" y2="226.72" stroke="#3c3c3c" stroke-width="0.9"/>
<line x1="32" y1="198.64" x2="33.6" y2="198.64" stroke="#3c3c3c" stroke-width="0.9"/>
<path d="M32 184.4H213.5V330.2" fill="none" stroke="#747474" stroke-width="1.3"/>
<path d="M32 184.4V330.2H213.5" fill="none" stroke="#444444" stroke-width="1.1"/>
<polyline points="50.1,325 53.73,240.76 57.36,226.72 64.62,214.51 79.14,211.7 93.66,208.75 108.18,206.64 137.22,204.68 166.26,202.85 195.3,201.73" fill="none" stroke="#111111" stroke-width="1.0" stroke-linejoin="round"/>
<rect x="47.79" y="322.69" width="4.62" height="4.62" fill="#000000"/>
<rect x="51.42" y="238.45" width="4.62" height="4.62" fill="#000000"/>
<rect x="55.05" y="224.41" width="4.62" height="4.62" fill="#000000"/>
<rect x="62.31" y="212.2" width="4.62" height="4.62" fill="#000000"/>
<rect x="76.83" y="209.39" width="4.62" height="4.62" fill="#000000"/>
<rect x="91.35" y="206.44" width="4.62" height="4.62" fill="#000000"/>
<rect x="105.87" y="204.33" width="4.62" height="4.62" fill="#000000"/>
<rect x="134.91" y="202.37" width="4.62" height="4.62" fill="#000000"/>
<rect x="163.95" y="200.54" width="4.62" height="4.62" fill="#000000"/>
<rect x="192.99" y="199.42" width="4.62" height="4.62" fill="#000000"/>
<polyline points="50.1,325 53.73,287.37 57.36,277.4 64.62,272.91 79.14,270.38 93.66,268.49 108.18,266.66 137.22,265.12 166.26,263.86 195.3,263.15" fill="none" stroke="#ee4a55" stroke-width="1.0" stroke-linejoin="round"/>
<circle cx="50.1" cy="325" r="2.64" fill="#EE3340"/>
<circle cx="53.73" cy="287.37" r="2.64" fill="#EE3340"/>
<circle cx="57.36" cy="277.4" r="2.64" fill="#EE3340"/>
<circle cx="64.62" cy="272.91" r="2.64" fill="#EE3340"/>
<circle cx="79.14" cy="270.38" r="2.64" fill="#EE3340"/>
<circle cx="93.66" cy="268.49" r="2.64" fill="#EE3340"/>
<circle cx="108.18" cy="266.66" r="2.64" fill="#EE3340"/>
<circle cx="137.22" cy="265.12" r="2.64" fill="#EE3340"/>
<circle cx="166.26" cy="263.86" r="2.64" fill="#EE3340"/>
<circle cx="195.3" cy="263.15" r="2.64" fill="#EE3340"/>
<polyline points="50.1,325 53.73,298.39 57.36,292.57 64.62,289.06 79.14,287.93 93.66,287.23 108.18,285.83 137.22,284.71 166.26,283.02 195.3,282.11" fill="none" stroke="#4a80ee" stroke-width="1.0" stroke-linejoin="round"/>
<path d="M50.1 321.81L53.29 327.39L46.91 327.39Z" fill="#3F78EC"/>
<path d="M53.73 295.2L56.92 300.79L50.54 300.79Z" fill="#3F78EC"/>
<path d="M57.36 289.38L60.55 294.96L54.17 294.96Z" fill="#3F78EC"/>
<path d="M64.62 285.87L67.81 291.45L61.43 291.45Z" fill="#3F78EC"/>
<path d="M79.14 284.74L82.33 290.33L75.95 290.33Z" fill="#3F78EC"/>
<path d="M93.66 284.04L96.85 289.62L90.47 289.62Z" fill="#3F78EC"/>
<path d="M108.18 282.64L111.37 288.22L104.99 288.22Z" fill="#3F78EC"/>
<path d="M137.22 281.52L140.41 287.1L134.03 287.1Z" fill="#3F78EC"/>
<path d="M166.26 279.83L169.45 285.41L163.07 285.41Z" fill="#3F78EC"/>
<path d="M195.3 278.92L198.49 284.5L192.11 284.5Z" fill="#3F78EC"/>
<polyline points="50.1,325 53.73,296.78 57.36,291.44 64.62,287.93 79.14,286.25 93.66,284.56 108.18,283.79 137.22,281.9 166.26,281.2 195.3,280.28" fill="none" stroke="#f4862e" stroke-width="1.0" stroke-linejoin="round"/>
<path d="M50.1 328.19L53.29 322.61L46.91 322.61Z" fill="#F47C20"/>
<path d="M53.73 299.97L56.92 294.39L50.54 294.39Z" fill="#F47C20"/>
<path d="M57.36 294.63L60.55 289.05L54.17 289.05Z" fill="#F47C20"/>
<path d="M64.62 291.12L67.81 285.54L61.43 285.54Z" fill="#F47C20"/>
<path d="M79.14 289.44L82.33 283.86L75.95 283.86Z" fill="#F47C20"/>
<path d="M93.66 287.75L96.85 282.17L90.47 282.17Z" fill="#F47C20"/>
<path d="M108.18 286.98L111.37 281.4L104.99 281.4Z" fill="#F47C20"/>
<path d="M137.22 285.09L140.41 279.5L134.03 279.5Z" fill="#F47C20"/>
<path d="M166.26 284.39L169.45 278.8L163.07 278.8Z" fill="#F47C20"/>
<path d="M195.3 283.47L198.49 277.89L192.11 277.89Z" fill="#F47C20"/>
<line x1="80.8" y1="219.5" x2="101.1" y2="219.5" stroke="#111111" stroke-width="1.1"/>
<rect x="88.8" y="217.4" width="4.2" height="4.2" fill="#000000"/>
<text font-size="9.9" text-anchor="start" fill="#222222" transform="translate(103.8 222.87) scale(1 1.08)">Cu-1.47Be</text>
<line x1="80.8" y1="231.5" x2="101.1" y2="231.5" stroke="#ee4a55" stroke-width="1.1"/>
<circle cx="90.9" cy="231.5" r="2.4" fill="#EE3340"/>
<text font-size="9.9" text-anchor="start" fill="#222222" transform="translate(103.8 234.87) scale(1 1.08)">Cu-1.47Be-0.62Ni</text>
<line x1="80.8" y1="244.5" x2="101.1" y2="244.5" stroke="#4a80ee" stroke-width="1.1"/>
<path d="M90.9 241.6L93.8 246.68L88 246.68Z" fill="#3F78EC"/>
<text font-size="9.9" text-anchor="start" fill="#222222" transform="translate(103.8 247.87) scale(1 1.08)">Cu-1.47Be-0.62Ni-0.1Mg</text>
<line x1="80.8" y1="256.5" x2="101.1" y2="256.5" stroke="#f4862e" stroke-width="1.1"/>
<path d="M90.9 259.4L93.8 254.32L88 254.32Z" fill="#F47C20"/>
<text font-size="9.9" text-anchor="start" fill="#222222" transform="translate(103.8 259.87) scale(1 1.08)">Cu-1.47Be-0.62Ni-0.2Mg</text>
<text font-size="10.8" text-anchor="middle" fill="#222222" transform="translate(112.7 352) scale(1 1.08)">Time (h)</text>
<text font-size="11" text-anchor="middle" fill="#222222" transform="translate(11.8 255) rotate(-90) scale(1 1.08)" dominant-baseline="central">Stress relaxation rate (%)</text>
<rect x="264" y="186.2" width="177.3" height="143" fill="url(#gblue)"/>
<line x1="278.1" y1="329.8" x2="278.1" y2="326.8" stroke="#3c3c3c" stroke-width="0.9"/>
<text font-size="10.6" text-anchor="middle" fill="#222222" transform="translate(278.1 340.8) scale(1 1.08)">0</text>
<line x1="307.92" y1="329.8" x2="307.92" y2="326.8" stroke="#3c3c3c" stroke-width="0.9"/>
<text font-size="10.6" text-anchor="middle" fill="#222222" transform="translate(307.92 340.8) scale(1 1.08)">200</text>
<line x1="337.74" y1="329.8" x2="337.74" y2="326.8" stroke="#3c3c3c" stroke-width="0.9"/>
<text font-size="10.6" text-anchor="middle" fill="#222222" transform="translate(337.74 340.8) scale(1 1.08)">400</text>
<line x1="367.56" y1="329.8" x2="367.56" y2="326.8" stroke="#3c3c3c" stroke-width="0.9"/>
<text font-size="10.6" text-anchor="middle" fill="#222222" transform="translate(367.56 340.8) scale(1 1.08)">600</text>
<line x1="397.38" y1="329.8" x2="397.38" y2="326.8" stroke="#3c3c3c" stroke-width="0.9"/>
<text font-size="10.6" text-anchor="middle" fill="#222222" transform="translate(397.38 340.8) scale(1 1.08)">800</text>
<line x1="427.2" y1="329.8" x2="427.2" y2="326.8" stroke="#3c3c3c" stroke-width="0.9"/>
<text font-size="10.6" text-anchor="middle" fill="#222222" transform="translate(427.2 340.8) scale(1 1.08)">1000</text>
<line x1="293.01" y1="329.8" x2="293.01" y2="328.2" stroke="#3c3c3c" stroke-width="0.9"/>
<line x1="322.83" y1="329.8" x2="322.83" y2="328.2" stroke="#3c3c3c" stroke-width="0.9"/>
<line x1="352.65" y1="329.8" x2="352.65" y2="328.2" stroke="#3c3c3c" stroke-width="0.9"/>
<line x1="382.47" y1="329.8" x2="382.47" y2="328.2" stroke="#3c3c3c" stroke-width="0.9"/>
<line x1="412.29" y1="329.8" x2="412.29" y2="328.2" stroke="#3c3c3c" stroke-width="0.9"/>
<line x1="263.4" y1="330.2" x2="266.4" y2="330.2" stroke="#3c3c3c" stroke-width="0.9"/>
<text font-size="10.6" text-anchor="end" fill="#222222" transform="translate(260.4 333.9) scale(1 1.08)">600</text>
<line x1="263.4" y1="294" x2="266.4" y2="294" stroke="#3c3c3c" stroke-width="0.9"/>
<text font-size="10.6" text-anchor="end" fill="#222222" transform="translate(260.4 297.7) scale(1 1.08)">800</text>
<line x1="263.4" y1="257.8" x2="266.4" y2="257.8" stroke="#3c3c3c" stroke-width="0.9"/>
<text font-size="10.6" text-anchor="end" fill="#222222" transform="translate(260.4 261.5) scale(1 1.08)">1000</text>
<line x1="263.4" y1="221.6" x2="266.4" y2="221.6" stroke="#3c3c3c" stroke-width="0.9"/>
<text font-size="10.6" text-anchor="end" fill="#222222" transform="translate(260.4 225.3) scale(1 1.08)">1200</text>
<line x1="263.4" y1="185.4" x2="266.4" y2="185.4" stroke="#3c3c3c" stroke-width="0.9"/>
<text font-size="10.6" text-anchor="end" fill="#222222" transform="translate(260.4 189.1) scale(1 1.08)">1400</text>
<line x1="263.4" y1="312.1" x2="265" y2="312.1" stroke="#3c3c3c" stroke-width="0.9"/>
<line x1="263.4" y1="275.9" x2="265" y2="275.9" stroke="#3c3c3c" stroke-width="0.9"/>
<line x1="263.4" y1="239.7" x2="265" y2="239.7" stroke="#3c3c3c" stroke-width="0.9"/>
<line x1="263.4" y1="203.5" x2="265" y2="203.5" stroke="#3c3c3c" stroke-width="0.9"/>
<path d="M263.4 185.3H442.2V329.8" fill="none" stroke="#747474" stroke-width="1.3"/>
<path d="M263.4 185.3V329.8H442.2" fill="none" stroke="#444444" stroke-width="1.1"/>
<path d="M278.1 306.52V317.32M276.5 306.52H279.7M276.5 317.32H279.7" stroke="#808080" stroke-width="0.8" fill="none"/>
<path d="M295.99 269.57V277.17M294.39 269.57H297.59M294.39 277.17H297.59" stroke="#808080" stroke-width="0.8" fill="none"/>
<path d="M304.94 257.91V276.51M303.34 257.91H306.54M303.34 276.51H306.54" stroke="#808080" stroke-width="0.8" fill="none"/>
<path d="M313.88 255.05V278.65M312.28 255.05H315.48M312.28 278.65H315.48" stroke="#808080" stroke-width="0.8" fill="none"/>
<path d="M331.78 260.91V279.31M330.18 260.91H333.38M330.18 279.31H333.38" stroke="#808080" stroke-width="0.8" fill="none"/>
<path d="M349.67 265.15V281.95M348.07 265.15H351.27M348.07 281.95H351.27" stroke="#808080" stroke-width="0.8" fill="none"/>
<path d="M421.24 301.04V322.44M419.64 301.04H422.84M419.64 322.44H422.84" stroke="#808080" stroke-width="0.8" fill="none"/>
<polyline points="278.1,311.92 295.99,273.37 304.94,267.21 313.88,266.85 331.78,270.11 349.67,273.55 421.24,311.74" fill="none" stroke="#111111" stroke-width="1.0" stroke-linejoin="round"/>
<rect x="275.79" y="309.61" width="4.62" height="4.62" fill="#000000"/>
<rect x="293.68" y="271.06" width="4.62" height="4.62" fill="#000000"/>
<rect x="302.63" y="264.9" width="4.62" height="4.62" fill="#000000"/>
<rect x="311.57" y="264.54" width="4.62" height="4.62" fill="#000000"/>
<rect x="329.47" y="267.8" width="4.62" height="4.62" fill="#000000"/>
<rect x="347.36" y="271.24" width="4.62" height="4.62" fill="#000000"/>
<rect x="418.93" y="309.43" width="4.62" height="4.62" fill="#000000"/>
<path d="M278.1 282.24V289.84M276.5 282.24H279.7M276.5 289.84H279.7" stroke="#f09aa0" stroke-width="0.8" fill="none"/>
<path d="M295.99 226.14V237.34M294.39 226.14H297.59M294.39 237.34H297.59" stroke="#f09aa0" stroke-width="0.8" fill="none"/>
<path d="M304.94 217.36V226.56M303.34 217.36H306.54M303.34 226.56H306.54" stroke="#f09aa0" stroke-width="0.8" fill="none"/>
<path d="M313.88 207.74V213.74M312.28 207.74H315.48M312.28 213.74H315.48" stroke="#f09aa0" stroke-width="0.8" fill="none"/>
<path d="M331.78 203.87V215.07M330.18 203.87H333.38M330.18 215.07H333.38" stroke="#f09aa0" stroke-width="0.8" fill="none"/>
<path d="M349.67 200.33V215.72M348.07 200.33H351.27M348.07 215.72H351.27" stroke="#f09aa0" stroke-width="0.8" fill="none"/>
<path d="M421.24 214.4V228.8M419.64 214.4H422.84M419.64 228.8H422.84" stroke="#f09aa0" stroke-width="0.8" fill="none"/>
<polyline points="278.1,286.04 295.99,231.74 304.94,221.96 313.88,210.74 331.78,209.47 349.67,208.03 421.24,221.6" fill="none" stroke="#ee4a55" stroke-width="1.0" stroke-linejoin="round"/>
<circle cx="278.1" cy="286.04" r="2.64" fill="#EE3340"/>
<circle cx="295.99" cy="231.74" r="2.64" fill="#EE3340"/>
<circle cx="304.94" cy="221.96" r="2.64" fill="#EE3340"/>
<circle cx="313.88" cy="210.74" r="2.64" fill="#EE3340"/>
<circle cx="331.78" cy="209.47" r="2.64" fill="#EE3340"/>
<circle cx="349.67" cy="208.03" r="2.64" fill="#EE3340"/>
<circle cx="421.24" cy="221.6" r="2.64" fill="#EE3340"/>
<path d="M278.1 276.3V281.3M276.5 276.3H279.7M276.5 281.3H279.7" stroke="#9ab8f0" stroke-width="0.8" fill="none"/>
<path d="M295.99 215.3V220.3M294.39 215.3H297.59M294.39 220.3H297.59" stroke="#9ab8f0" stroke-width="0.8" fill="none"/>
<path d="M304.94 207.24V214.24M303.34 207.24H306.54M303.34 214.24H306.54" stroke="#9ab8f0" stroke-width="0.8" fill="none"/>
<path d="M313.88 203.94V209.94M312.28 203.94H315.48M312.28 209.94H315.48" stroke="#9ab8f0" stroke-width="0.8" fill="none"/>
<path d="M331.78 193.93V202.93M330.18 193.93H333.38M330.18 202.93H333.38" stroke="#9ab8f0" stroke-width="0.8" fill="none"/>
<path d="M349.67 191.45V197.45M348.07 191.45H351.27M348.07 197.45H351.27" stroke="#9ab8f0" stroke-width="0.8" fill="none"/>
<path d="M421.24 196.19V207.19M419.64 196.19H422.84M419.64 207.19H422.84" stroke="#9ab8f0" stroke-width="0.8" fill="none"/>
<polyline points="278.1,278.8 295.99,217.8 304.94,210.74 313.88,206.94 331.78,198.43 349.67,194.45 421.24,201.69" fill="none" stroke="#4a80ee" stroke-width="1.0" stroke-linejoin="round"/>
<path d="M278.1 275.61L281.29 281.19L274.91 281.19Z" fill="#3F78EC"/>
<path d="M295.99 214.61L299.18 220.19L292.8 220.19Z" fill="#3F78EC"/>
<path d="M304.94 207.55L308.13 213.13L301.75 213.13Z" fill="#3F78EC"/>
<path d="M313.88 203.75L317.07 209.33L310.69 209.33Z" fill="#3F78EC"/>
<path d="M331.78 195.24L334.97 200.82L328.59 200.82Z" fill="#3F78EC"/>
<path d="M349.67 191.26L352.86 196.84L346.48 196.84Z" fill="#3F78EC"/>
<path d="M421.24 198.5L424.43 204.08L418.05 204.08Z" fill="#3F78EC"/>
<path d="M278.1 277.93V282.93M276.5 277.93H279.7M276.5 282.93H279.7" stroke="#f5b890" stroke-width="0.8" fill="none"/>
<path d="M295.99 219.32V225.32M294.39 219.32H297.59M294.39 225.32H297.59" stroke="#f5b890" stroke-width="0.8" fill="none"/>
<path d="M304.94 212.99V218.99M303.34 212.99H306.54M303.34 218.99H306.54" stroke="#f5b890" stroke-width="0.8" fill="none"/>
<path d="M313.88 205.93V211.93M312.28 205.93H315.48M312.28 211.93H315.48" stroke="#f5b890" stroke-width="0.8" fill="none"/>
<path d="M331.78 201.85V209.85M330.18 201.85H333.38M330.18 209.85H333.38" stroke="#f5b890" stroke-width="0.8" fill="none"/>
<path d="M349.67 198.96V206.96M348.07 198.96H351.27M348.07 206.96H351.27" stroke="#f5b890" stroke-width="0.8" fill="none"/>
<path d="M421.24 203.93V213.93M419.64 203.93H422.84M419.64 213.93H422.84" stroke="#f5b890" stroke-width="0.8" fill="none"/>
<polyline points="278.1,280.43 295.99,222.32 304.94,215.99 313.88,208.93 331.78,205.85 349.67,202.96 421.24,208.93" fill="none" stroke="#f4862e" stroke-width="1.0" stroke-linejoin="round"/>
<path d="M278.1 283.62L281.29 278.03L274.91 278.03Z" fill="#F47C20"/>
<path d="M295.99 225.51L299.18 219.93L292.8 219.93Z" fill="#F47C20"/>
<path d="M304.94 219.18L308.13 213.6L301.75 213.6Z" fill="#F47C20"/>
<path d="M313.88 212.12L317.07 206.54L310.69 206.54Z" fill="#F47C20"/>
<path d="M331.78 209.04L334.97 203.46L328.59 203.46Z" fill="#F47C20"/>
<path d="M349.67 206.15L352.86 200.56L346.48 200.56Z" fill="#F47C20"/>
<path d="M421.24 212.12L424.43 206.54L418.05 206.54Z" fill="#F47C20"/>
<line x1="316" y1="221.5" x2="336.7" y2="221.5" stroke="#111111" stroke-width="1.1"/>
<rect x="324.4" y="219.4" width="4.2" height="4.2" fill="#000000"/>
<text font-size="9.5" text-anchor="start" fill="#222222" transform="translate(339.7 224.73) scale(1 1.08)">Cu-1.47Be</text>
<line x1="316" y1="232.5" x2="336.7" y2="232.5" stroke="#ee4a55" stroke-width="1.1"/>
<circle cx="326.5" cy="232.5" r="2.4" fill="#EE3340"/>
<text font-size="9.5" text-anchor="start" fill="#222222" transform="translate(339.7 235.73) scale(1 1.08)">Cu-1.47Be-0.62Ni</text>
<line x1="316" y1="244.5" x2="336.7" y2="244.5" stroke="#4a80ee" stroke-width="1.1"/>
<path d="M326.5 241.6L329.4 246.68L323.6 246.68Z" fill="#3F78EC"/>
<text font-size="9.5" text-anchor="start" fill="#222222" transform="translate(339.7 247.73) scale(1 1.08)">Cu-1.47Be-0.62Ni-0.1Mg</text>
<line x1="316" y1="255.5" x2="336.7" y2="255.5" stroke="#f6c496" stroke-width="2.0"/>
<path d="M326.5 258.4L329.4 253.32L323.6 253.32Z" fill="#F47C20"/>
<text font-size="9.5" text-anchor="start" fill="#222222" transform="translate(339.7 258.73) scale(1 1.08)">Cu-1.47Be-0.62Ni-0.2Mg</text>
<text font-size="10.8" text-anchor="middle" fill="#222222" transform="translate(356 351) scale(1 1.08)">Aging time (min)</text>
<text font-size="10.7" text-anchor="middle" fill="#222222" transform="translate(234.2 257) rotate(-90) scale(1 1.08)" dominant-baseline="central">Strength (MPa)</text>
<rect x="490.1" y="186.9" width="181.6" height="145.2" fill="url(#gblue)"/>
<line x1="505.1" y1="332.7" x2="505.1" y2="329.7" stroke="#3c3c3c" stroke-width="0.9"/>
<text font-size="10.6" text-anchor="middle" fill="#222222" transform="translate(505.1 343.7) scale(1 1.08)">0</text>
<line x1="535.58" y1="332.7" x2="535.58" y2="329.7" stroke="#3c3c3c" stroke-width="0.9"/>
<text font-size="10.6" text-anchor="middle" fill="#222222" transform="translate(535.58 343.7) scale(1 1.08)">200</text>
<line x1="566.06" y1="332.7" x2="566.06" y2="329.7" stroke="#3c3c3c" stroke-width="0.9"/>
<text font-size="10.6" text-anchor="middle" fill="#222222" transform="translate(566.06 343.7) scale(1 1.08)">400</text>
<line x1="596.54" y1="332.7" x2="596.54" y2="329.7" stroke="#3c3c3c" stroke-width="0.9"/>
<text font-size="10.6" text-anchor="middle" fill="#222222" transform="translate(596.54 343.7) scale(1 1.08)">600</text>
<line x1="627.02" y1="332.7" x2="627.02" y2="329.7" stroke="#3c3c3c" stroke-width="0.9"/>
<text font-size="10.6" text-anchor="middle" fill="#222222" transform="translate(627.02 343.7) scale(1 1.08)">800</text>
<line x1="657.5" y1="332.7" x2="657.5" y2="329.7" stroke="#3c3c3c" stroke-width="0.9"/>
<text font-size="10.6" text-anchor="middle" fill="#222222" transform="translate(657.5 343.7) scale(1 1.08)">1000</text>
<line x1="520.34" y1="332.7" x2="520.34" y2="331.1" stroke="#3c3c3c" stroke-width="0.9"/>
<line x1="550.82" y1="332.7" x2="550.82" y2="331.1" stroke="#3c3c3c" stroke-width="0.9"/>
<line x1="581.3" y1="332.7" x2="581.3" y2="331.1" stroke="#3c3c3c" stroke-width="0.9"/>
<line x1="611.78" y1="332.7" x2="611.78" y2="331.1" stroke="#3c3c3c" stroke-width="0.9"/>
<line x1="642.26" y1="332.7" x2="642.26" y2="331.1" stroke="#3c3c3c" stroke-width="0.9"/>
<line x1="489.5" y1="333.38" x2="492.5" y2="333.38" stroke="#3c3c3c" stroke-width="0.9"/>
<text font-size="10.6" text-anchor="end" fill="#222222" transform="translate(486.5 337.08) scale(1 1.08)">200</text>
<line x1="489.5" y1="303.86" x2="492.5" y2="303.86" stroke="#3c3c3c" stroke-width="0.9"/>
<text font-size="10.6" text-anchor="end" fill="#222222" transform="translate(486.5 307.56) scale(1 1.08)">250</text>
<line x1="489.5" y1="274.34" x2="492.5" y2="274.34" stroke="#3c3c3c" stroke-width="0.9"/>
<text font-size="10.6" text-anchor="end" fill="#222222" transform="translate(486.5 278.04) scale(1 1.08)">300</text>
<line x1="489.5" y1="244.82" x2="492.5" y2="244.82" stroke="#3c3c3c" stroke-width="0.9"/>
<text font-size="10.6" text-anchor="end" fill="#222222" transform="translate(486.5 248.52) scale(1 1.08)">350</text>
<line x1="489.5" y1="215.3" x2="492.5" y2="215.3" stroke="#3c3c3c" stroke-width="0.9"/>
<text font-size="10.6" text-anchor="end" fill="#222222" transform="translate(486.5 219) scale(1 1.08)">400</text>
<line x1="489.5" y1="185.78" x2="492.5" y2="185.78" stroke="#3c3c3c" stroke-width="0.9"/>
<text font-size="10.6" text-anchor="end" fill="#222222" transform="translate(486.5 189.48) scale(1 1.08)">450</text>
<line x1="489.5" y1="318.62" x2="491.1" y2="318.62" stroke="#3c3c3c" stroke-width="0.9"/>
<line x1="489.5" y1="289.1" x2="491.1" y2="289.1" stroke="#3c3c3c" stroke-width="0.9"/>
<line x1="489.5" y1="259.58" x2="491.1" y2="259.58" stroke="#3c3c3c" stroke-width="0.9"/>
<line x1="489.5" y1="230.06" x2="491.1" y2="230.06" stroke="#3c3c3c" stroke-width="0.9"/>
<line x1="489.5" y1="200.54" x2="491.1" y2="200.54" stroke="#3c3c3c" stroke-width="0.9"/>
<path d="M489.5 186H672.6V332.7" fill="none" stroke="#747474" stroke-width="1.3"/>
<path d="M489.5 186V332.7H672.6" fill="none" stroke="#444444" stroke-width="1.1"/>
<path d="M505.1 311.41V332.21M503.5 311.41H506.7M503.5 332.21H506.7" stroke="#777777" stroke-width="0.8" fill="none"/>
<path d="M514.24 251.28V265.28M512.64 251.28H515.84M512.64 265.28H515.84" stroke="#777777" stroke-width="0.8" fill="none"/>
<path d="M523.39 236.5V255.5M521.79 236.5H524.99M521.79 255.5H524.99" stroke="#777777" stroke-width="0.8" fill="none"/>
<path d="M532.53 240.99V259.99M530.93 240.99H534.13M530.93 259.99H534.13" stroke="#777777" stroke-width="0.8" fill="none"/>
<path d="M541.68 242.09V258.89M540.08 242.09H543.28M540.08 258.89H543.28" stroke="#777777" stroke-width="0.8" fill="none"/>
<path d="M559.96 242.9V258.9M558.36 242.9H561.56M558.36 258.9H561.56" stroke="#777777" stroke-width="0.8" fill="none"/>
<path d="M578.25 243.23V262.83M576.65 243.23H579.85M576.65 262.83H579.85" stroke="#777777" stroke-width="0.8" fill="none"/>
<path d="M651.4 264.63V282.63M649.8 264.63H653M649.8 282.63H653" stroke="#777777" stroke-width="0.8" fill="none"/>
<polyline points="505.1,321.81 514.24,258.28 523.39,246 532.53,250.49 541.68,250.49 559.96,250.9 578.25,253.03 651.4,273.63" fill="none" stroke="#111111" stroke-width="1.0" stroke-linejoin="round"/>
<rect x="502.79" y="319.5" width="4.62" height="4.62" fill="#000000"/>
<rect x="511.93" y="255.97" width="4.62" height="4.62" fill="#000000"/>
<rect x="521.08" y="243.69" width="4.62" height="4.62" fill="#000000"/>
<rect x="530.22" y="248.18" width="4.62" height="4.62" fill="#000000"/>
<rect x="539.37" y="248.18" width="4.62" height="4.62" fill="#000000"/>
<rect x="557.65" y="248.59" width="4.62" height="4.62" fill="#000000"/>
<rect x="575.94" y="250.72" width="4.62" height="4.62" fill="#000000"/>
<rect x="649.09" y="271.32" width="4.62" height="4.62" fill="#000000"/>
<path d="M505.1 284.76V298.76M503.5 284.76H506.7M503.5 298.76H506.7" stroke="#f09aa0" stroke-width="0.8" fill="none"/>
<path d="M514.24 227.79V243.19M512.64 227.79H515.84M512.64 243.19H515.84" stroke="#f09aa0" stroke-width="0.8" fill="none"/>
<path d="M523.39 225.69V240.69M521.79 225.69H524.99M521.79 240.69H524.99" stroke="#f09aa0" stroke-width="0.8" fill="none"/>
<path d="M532.53 224.59V236.59M530.93 224.59H534.13M530.93 236.59H534.13" stroke="#f09aa0" stroke-width="0.8" fill="none"/>
<path d="M541.68 221.71V234.51M540.08 221.71H543.28M540.08 234.51H543.28" stroke="#f09aa0" stroke-width="0.8" fill="none"/>
<path d="M559.96 221.76V230.56M558.36 221.76H561.56M558.36 230.56H561.56" stroke="#f09aa0" stroke-width="0.8" fill="none"/>
<path d="M578.25 220.97V233.37M576.65 220.97H579.85M576.65 233.37H579.85" stroke="#f09aa0" stroke-width="0.8" fill="none"/>
<path d="M651.4 225.99V240.39M649.8 225.99H653M649.8 240.39H653" stroke="#f09aa0" stroke-width="0.8" fill="none"/>
<polyline points="505.1,291.76 514.24,235.49 523.39,233.19 532.53,230.59 541.68,228.11 559.96,226.16 578.25,227.17 651.4,233.19" fill="none" stroke="#ee4a55" stroke-width="1.0" stroke-linejoin="round"/>
<circle cx="505.1" cy="291.76" r="2.64" fill="#EE3340"/>
<circle cx="514.24" cy="235.49" r="2.64" fill="#EE3340"/>
<circle cx="523.39" cy="233.19" r="2.64" fill="#EE3340"/>
<circle cx="532.53" cy="230.59" r="2.64" fill="#EE3340"/>
<circle cx="541.68" cy="228.11" r="2.64" fill="#EE3340"/>
<circle cx="559.96" cy="226.16" r="2.64" fill="#EE3340"/>
<circle cx="578.25" cy="227.17" r="2.64" fill="#EE3340"/>
<circle cx="651.4" cy="233.19" r="2.64" fill="#EE3340"/>
<path d="M505.1 283.27V289.27M503.5 283.27H506.7M503.5 289.27H506.7" stroke="#9ab8f0" stroke-width="0.8" fill="none"/>
<path d="M514.24 226.47V232.47M512.64 226.47H515.84M512.64 232.47H515.84" stroke="#9ab8f0" stroke-width="0.8" fill="none"/>
<path d="M523.39 222.59V230.79M521.79 222.59H524.99M521.79 230.79H524.99" stroke="#9ab8f0" stroke-width="0.8" fill="none"/>
<path d="M532.53 217.36V227.76M530.93 217.36H534.13M530.93 227.76H534.13" stroke="#9ab8f0" stroke-width="0.8" fill="none"/>
<path d="M541.68 215.84V221.84M540.08 215.84H543.28M540.08 221.84H543.28" stroke="#9ab8f0" stroke-width="0.8" fill="none"/>
<path d="M559.96 208.26V215.26M558.36 208.26H561.56M558.36 215.26H561.56" stroke="#9ab8f0" stroke-width="0.8" fill="none"/>
<path d="M578.25 205.98V211.98M576.65 205.98H579.85M576.65 211.98H579.85" stroke="#9ab8f0" stroke-width="0.8" fill="none"/>
<path d="M651.4 212.3V218.3M649.8 212.3H653M649.8 218.3H653" stroke="#9ab8f0" stroke-width="0.8" fill="none"/>
<polyline points="505.1,286.27 514.24,229.47 523.39,226.69 532.53,222.56 541.68,218.84 559.96,211.76 578.25,208.98 651.4,215.3" fill="none" stroke="#4a80ee" stroke-width="1.0" stroke-linejoin="round"/>
<path d="M505.1 283.08L508.29 288.66L501.91 288.66Z" fill="#3F78EC"/>
<path d="M514.24 226.28L517.43 231.86L511.05 231.86Z" fill="#3F78EC"/>
<path d="M523.39 223.5L526.58 229.09L520.2 229.09Z" fill="#3F78EC"/>
<path d="M532.53 219.37L535.72 224.95L529.34 224.95Z" fill="#3F78EC"/>
<path d="M541.68 215.65L544.87 221.23L538.49 221.23Z" fill="#3F78EC"/>
<path d="M559.96 208.57L563.15 214.15L556.77 214.15Z" fill="#3F78EC"/>
<path d="M578.25 205.79L581.44 211.38L575.06 211.38Z" fill="#3F78EC"/>
<path d="M651.4 212.11L654.59 217.69L648.21 217.69Z" fill="#3F78EC"/>
<path d="M505.1 281.49V287.49M503.5 281.49H506.7M503.5 287.49H506.7" stroke="#f5b890" stroke-width="0.8" fill="none"/>
<path d="M514.24 229.01V235.01M512.64 229.01H515.84M512.64 235.01H515.84" stroke="#f5b890" stroke-width="0.8" fill="none"/>
<path d="M523.39 226.94V232.94M521.79 226.94H524.99M521.79 232.94H524.99" stroke="#f5b890" stroke-width="0.8" fill="none"/>
<path d="M532.53 223.69V229.69M530.93 223.69H534.13M530.93 229.69H534.13" stroke="#f5b890" stroke-width="0.8" fill="none"/>
<path d="M541.68 220.39V226.39M540.08 220.39H543.28M540.08 226.39H543.28" stroke="#f5b890" stroke-width="0.8" fill="none"/>
<path d="M559.96 218.56V224.56M558.36 218.56H561.56M558.36 224.56H561.56" stroke="#f5b890" stroke-width="0.8" fill="none"/>
<path d="M578.25 214.43V220.43M576.65 214.43H579.85M576.65 220.43H579.85" stroke="#f5b890" stroke-width="0.8" fill="none"/>
<path d="M651.4 219.56V225.56M649.8 219.56H653M649.8 225.56H653" stroke="#f5b890" stroke-width="0.8" fill="none"/>
<polyline points="505.1,284.49 514.24,232.01 523.39,229.94 532.53,226.69 541.68,223.39 559.96,221.56 578.25,217.43 651.4,222.56" fill="none" stroke="#f4862e" stroke-width="1.0" stroke-linejoin="round"/>
<path d="M505.1 287.68L508.29 282.1L501.91 282.1Z" fill="#F47C20"/>
<path d="M514.24 235.2L517.43 229.62L511.05 229.62Z" fill="#F47C20"/>
<path d="M523.39 233.13L526.58 227.55L520.2 227.55Z" fill="#F47C20"/>
<path d="M532.53 229.88L535.72 224.3L529.34 224.3Z" fill="#F47C20"/>
<path d="M541.68 226.58L544.87 221L538.49 221Z" fill="#F47C20"/>
<path d="M559.96 224.75L563.15 219.17L556.77 219.17Z" fill="#F47C20"/>
<path d="M578.25 220.62L581.44 215.03L575.06 215.03Z" fill="#F47C20"/>
<path d="M651.4 225.75L654.59 220.17L648.21 220.17Z" fill="#F47C20"/>
<line x1="528.1" y1="275.5" x2="549.7" y2="275.5" stroke="#9a9a9a" stroke-width="2.0"/>
<rect x="536.7" y="273.4" width="4.2" height="4.2" fill="#000000"/>
<text font-size="10.5" text-anchor="start" fill="#222222" transform="translate(552.5 279.07) scale(1 1.08)">Cu-1.47Be</text>
<line x1="528.1" y1="289.5" x2="549.7" y2="289.5" stroke="#ee4a55" stroke-width="1.1"/>
<circle cx="538.8" cy="289.5" r="2.4" fill="#EE3340"/>
<text font-size="10.5" text-anchor="start" fill="#222222" transform="translate(552.5 293.07) scale(1 1.08)">Cu-1.47Be-0.62Ni</text>
<line x1="528.1" y1="302.5" x2="549.7" y2="302.5" stroke="#4a80ee" stroke-width="1.1"/>
<path d="M538.8 299.6L541.7 304.68L535.9 304.68Z" fill="#3F78EC"/>
<text font-size="10.5" text-anchor="start" fill="#222222" transform="translate(552.5 306.07) scale(1 1.08)">Cu-1.47Be-0.62Ni-0.1Mg</text>
<line x1="528.1" y1="315.5" x2="549.7" y2="315.5" stroke="#f4862e" stroke-width="1.1"/>
<path d="M538.8 318.4L541.7 313.32L535.9 313.32Z" fill="#F47C20"/>
<text font-size="10.5" text-anchor="start" fill="#222222" transform="translate(552.5 319.07) scale(1 1.08)">Cu-1.47Be-0.62Ni-0.2Mg</text>
<text font-size="11.1" text-anchor="middle" fill="#222222" transform="translate(584.2 353.6) scale(1 1.08)">Aging time (min)</text>
<text font-size="10.9" text-anchor="middle" fill="#222222" transform="translate(463.8 257.5) rotate(-90) scale(1 1.08)" dominant-baseline="central">Hardness (HV)</text>
<rect x="33.2" y="361.6" width="181.4" height="145.4" fill="url(#gblue)"/>
<line x1="48" y1="507.6" x2="48" y2="504.6" stroke="#3c3c3c" stroke-width="0.9"/>
<text font-size="10.6" text-anchor="middle" fill="#222222" transform="translate(48 518.6) scale(1 1.08)">0</text>
<line x1="78.38" y1="507.6" x2="78.38" y2="504.6" stroke="#3c3c3c" stroke-width="0.9"/>
<text font-size="10.6" text-anchor="middle" fill="#222222" transform="translate(78.38 518.6) scale(1 1.08)">200</text>
<line x1="108.76" y1="507.6" x2="108.76" y2="504.6" stroke="#3c3c3c" stroke-width="0.9"/>
<text font-size="10.6" text-anchor="middle" fill="#222222" transform="translate(108.76 518.6) scale(1 1.08)">400</text>
<line x1="139.14" y1="507.6" x2="139.14" y2="504.6" stroke="#3c3c3c" stroke-width="0.9"/>
<text font-size="10.6" text-anchor="middle" fill="#222222" transform="translate(139.14 518.6) scale(1 1.08)">600</text>
<line x1="169.52" y1="507.6" x2="169.52" y2="504.6" stroke="#3c3c3c" stroke-width="0.9"/>
<text font-size="10.6" text-anchor="middle" fill="#222222" transform="translate(169.52 518.6) scale(1 1.08)">800</text>
<line x1="199.9" y1="507.6" x2="199.9" y2="504.6" stroke="#3c3c3c" stroke-width="0.9"/>
<text font-size="10.6" text-anchor="middle" fill="#222222" transform="translate(199.9 518.6) scale(1 1.08)">1000</text>
<line x1="63.19" y1="507.6" x2="63.19" y2="506" stroke="#3c3c3c" stroke-width="0.9"/>
<line x1="93.57" y1="507.6" x2="93.57" y2="506" stroke="#3c3c3c" stroke-width="0.9"/>
<line x1="123.95" y1="507.6" x2="123.95" y2="506" stroke="#3c3c3c" stroke-width="0.9"/>
<line x1="154.33" y1="507.6" x2="154.33" y2="506" stroke="#3c3c3c" stroke-width="0.9"/>
<line x1="184.71" y1="507.6" x2="184.71" y2="506" stroke="#3c3c3c" stroke-width="0.9"/>
<line x1="32.6" y1="507.48" x2="35.6" y2="507.48" stroke="#3c3c3c" stroke-width="0.9"/>
<text font-size="10.6" text-anchor="end" fill="#222222" transform="translate(29.6 511.18) scale(1 1.08)">16</text>
<line x1="32.6" y1="483" x2="35.6" y2="483" stroke="#3c3c3c" stroke-width="0.9"/>
<text font-size="10.6" text-anchor="end" fill="#222222" transform="translate(29.6 486.7) scale(1 1.08)">20</text>
<line x1="32.6" y1="458.52" x2="35.6" y2="458.52" stroke="#3c3c3c" stroke-width="0.9"/>
<text font-size="10.6" text-anchor="end" fill="#222222" transform="translate(29.6 462.22) scale(1 1.08)">24</text>
<line x1="32.6" y1="434.04" x2="35.6" y2="434.04" stroke="#3c3c3c" stroke-width="0.9"/>
<text font-size="10.6" text-anchor="end" fill="#222222" transform="translate(29.6 437.74) scale(1 1.08)">28</text>
<line x1="32.6" y1="409.56" x2="35.6" y2="409.56" stroke="#3c3c3c" stroke-width="0.9"/>
<text font-size="10.6" text-anchor="end" fill="#222222" transform="translate(29.6 413.26) scale(1 1.08)">32</text>
<line x1="32.6" y1="385.08" x2="35.6" y2="385.08" stroke="#3c3c3c" stroke-width="0.9"/>
<text font-size="10.6" text-anchor="end" fill="#222222" transform="translate(29.6 388.78) scale(1 1.08)">36</text>
<line x1="32.6" y1="360.6" x2="35.6" y2="360.6" stroke="#3c3c3c" stroke-width="0.9"/>
<text font-size="10.6" text-anchor="end" fill="#222222" transform="translate(29.6 364.3) scale(1 1.08)">40</text>
<line x1="32.6" y1="495.24" x2="34.2" y2="495.24" stroke="#3c3c3c" stroke-width="0.9"/>
<line x1="32.6" y1="470.76" x2="34.2" y2="470.76" stroke="#3c3c3c" stroke-width="0.9"/>
<line x1="32.6" y1="446.28" x2="34.2" y2="446.28" stroke="#3c3c3c" stroke-width="0.9"/>
<line x1="32.6" y1="421.8" x2="34.2" y2="421.8" stroke="#3c3c3c" stroke-width="0.9"/>
<line x1="32.6" y1="397.32" x2="34.2" y2="397.32" stroke="#3c3c3c" stroke-width="0.9"/>
<line x1="32.6" y1="372.84" x2="34.2" y2="372.84" stroke="#3c3c3c" stroke-width="0.9"/>
<path d="M32.6 360.7H215.5V507.6" fill="none" stroke="#747474" stroke-width="1.3"/>
<path d="M32.6 360.7V507.6H215.5" fill="none" stroke="#444444" stroke-width="1.1"/>
<path d="M48 466.48V481.28M46.4 466.48H49.6M46.4 481.28H49.6" stroke="#555555" stroke-width="0.8" fill="none"/>
<path d="M57.11 431.49V441.49M55.51 431.49H58.71M55.51 441.49H58.71" stroke="#555555" stroke-width="0.8" fill="none"/>
<path d="M66.23 418.7V434.7M64.63 418.7H67.83M64.63 434.7H67.83" stroke="#555555" stroke-width="0.8" fill="none"/>
<path d="M75.34 404.34V423.34M73.74 404.34H76.94M73.74 423.34H76.94" stroke="#555555" stroke-width="0.8" fill="none"/>
<path d="M84.46 402.18V417.18M82.86 402.18H86.06M82.86 417.18H86.06" stroke="#555555" stroke-width="0.8" fill="none"/>
<path d="M102.68 396.42V408.02M101.08 396.42H104.28M101.08 408.02H104.28" stroke="#555555" stroke-width="0.8" fill="none"/>
<path d="M120.91 382.04V394.24M119.31 382.04H122.51M119.31 394.24H122.51" stroke="#555555" stroke-width="0.8" fill="none"/>
<path d="M193.82 367.2V384.6M192.22 367.2H195.42M192.22 384.6H195.42" stroke="#555555" stroke-width="0.8" fill="none"/>
<polyline points="48,473.88 57.11,436.49 66.23,426.7 75.34,413.84 84.46,409.68 102.68,402.22 120.91,388.14 193.82,375.9" fill="none" stroke="#111111" stroke-width="1.0" stroke-linejoin="round"/>
<rect x="45.69" y="471.57" width="4.62" height="4.62" fill="#000000"/>
<rect x="54.8" y="434.18" width="4.62" height="4.62" fill="#000000"/>
<rect x="63.92" y="424.39" width="4.62" height="4.62" fill="#000000"/>
<rect x="73.03" y="411.53" width="4.62" height="4.62" fill="#000000"/>
<rect x="82.15" y="407.37" width="4.62" height="4.62" fill="#000000"/>
<rect x="100.37" y="399.91" width="4.62" height="4.62" fill="#000000"/>
<rect x="118.6" y="385.83" width="4.62" height="4.62" fill="#000000"/>
<rect x="191.51" y="373.59" width="4.62" height="4.62" fill="#000000"/>
<path d="M48 476.58V481.58M46.4 476.58H49.6M46.4 481.58H49.6" stroke="#f09aa0" stroke-width="0.8" fill="none"/>
<path d="M57.11 451.7V462.9M55.51 451.7H58.71M55.51 462.9H58.71" stroke="#f09aa0" stroke-width="0.8" fill="none"/>
<path d="M66.23 444.97V458.97M64.63 444.97H67.83M64.63 458.97H67.83" stroke="#f09aa0" stroke-width="0.8" fill="none"/>
<path d="M75.34 442.52V453.72M73.74 442.52H76.94M73.74 453.72H76.94" stroke="#f09aa0" stroke-width="0.8" fill="none"/>
<path d="M84.46 436.31V448.91M82.86 436.31H86.06M82.86 448.91H86.06" stroke="#f09aa0" stroke-width="0.8" fill="none"/>
<path d="M102.68 430.02V438.42M101.08 430.02H104.28M101.08 438.42H104.28" stroke="#f09aa0" stroke-width="0.8" fill="none"/>
<path d="M120.91 419.25V429.25M119.31 419.25H122.51M119.31 429.25H122.51" stroke="#f09aa0" stroke-width="0.8" fill="none"/>
<path d="M193.82 404.41V411.41M192.22 404.41H195.42M192.22 411.41H195.42" stroke="#f09aa0" stroke-width="0.8" fill="none"/>
<polyline points="48,479.08 57.11,457.3 66.23,451.97 75.34,448.12 84.46,442.61 102.68,434.22 120.91,424.25 193.82,407.91" fill="none" stroke="#ee4a55" stroke-width="1.0" stroke-linejoin="round"/>
<circle cx="48" cy="479.08" r="2.64" fill="#EE3340"/>
<circle cx="57.11" cy="457.3" r="2.64" fill="#EE3340"/>
<circle cx="66.23" cy="451.97" r="2.64" fill="#EE3340"/>
<circle cx="75.34" cy="448.12" r="2.64" fill="#EE3340"/>
<circle cx="84.46" cy="442.61" r="2.64" fill="#EE3340"/>
<circle cx="102.68" cy="434.22" r="2.64" fill="#EE3340"/>
<circle cx="120.91" cy="424.25" r="2.64" fill="#EE3340"/>
<circle cx="193.82" cy="407.91" r="2.64" fill="#EE3340"/>
<path d="M48 478.42V483.42M46.4 478.42H49.6M46.4 483.42H49.6" stroke="#9ab8f0" stroke-width="0.8" fill="none"/>
<path d="M57.11 458.82V464.82M55.51 458.82H58.71M55.51 464.82H58.71" stroke="#9ab8f0" stroke-width="0.8" fill="none"/>
<path d="M66.23 452.09V458.09M64.63 452.09H67.83M64.63 458.09H67.83" stroke="#9ab8f0" stroke-width="0.8" fill="none"/>
<path d="M75.34 447.93V453.93M73.74 447.93H76.94M73.74 453.93H76.94" stroke="#9ab8f0" stroke-width="0.8" fill="none"/>
<path d="M84.46 443.52V449.52M82.86 443.52H86.06M82.86 449.52H86.06" stroke="#9ab8f0" stroke-width="0.8" fill="none"/>
<path d="M102.68 437.53V443.53M101.08 437.53H104.28M101.08 443.53H104.28" stroke="#9ab8f0" stroke-width="0.8" fill="none"/>
<path d="M120.91 424.31V430.31M119.31 424.31H122.51M119.31 430.31H122.51" stroke="#9ab8f0" stroke-width="0.8" fill="none"/>
<path d="M193.82 410.23V416.23M192.22 410.23H195.42M192.22 416.23H195.42" stroke="#9ab8f0" stroke-width="0.8" fill="none"/>
<polyline points="48,480.92 57.11,461.82 66.23,455.09 75.34,450.93 84.46,446.52 102.68,440.53 120.91,427.31 193.82,413.23" fill="none" stroke="#4a80ee" stroke-width="1.0" stroke-linejoin="round"/>
<path d="M48 477.73L51.19 483.31L44.81 483.31Z" fill="#3F78EC"/>
<path d="M57.11 458.63L60.3 464.22L53.92 464.22Z" fill="#3F78EC"/>
<path d="M66.23 451.9L69.42 457.49L63.04 457.49Z" fill="#3F78EC"/>
<path d="M75.34 447.74L78.53 453.32L72.15 453.32Z" fill="#3F78EC"/>
<path d="M84.46 443.33L87.65 448.92L81.27 448.92Z" fill="#3F78EC"/>
<path d="M102.68 437.34L105.87 442.92L99.49 442.92Z" fill="#3F78EC"/>
<path d="M120.91 424.12L124.1 429.7L117.72 429.7Z" fill="#3F78EC"/>
<path d="M193.82 410.04L197.01 415.62L190.63 415.62Z" fill="#3F78EC"/>
<path d="M48 480.11V486.51M46.4 480.11H49.6M46.4 486.51H49.6" stroke="#f5b890" stroke-width="0.8" fill="none"/>
<path d="M57.11 461.21V467.21M55.51 461.21H58.71M55.51 467.21H58.71" stroke="#f5b890" stroke-width="0.8" fill="none"/>
<path d="M66.23 452.64V464.64M64.63 452.64H67.83M64.63 464.64H67.83" stroke="#f5b890" stroke-width="0.8" fill="none"/>
<path d="M75.34 448.11V457.91M73.74 448.11H76.94M73.74 457.91H76.94" stroke="#f5b890" stroke-width="0.8" fill="none"/>
<path d="M84.46 443.22V455.82M82.86 443.22H86.06M82.86 455.82H86.06" stroke="#f5b890" stroke-width="0.8" fill="none"/>
<path d="M102.68 439.79V445.79M101.08 439.79H104.28M101.08 445.79H104.28" stroke="#f5b890" stroke-width="0.8" fill="none"/>
<path d="M120.91 427.98V433.98M119.31 427.98H122.51M119.31 433.98H122.51" stroke="#f5b890" stroke-width="0.8" fill="none"/>
<path d="M193.82 414.52V420.52M192.22 414.52H195.42M192.22 420.52H195.42" stroke="#f5b890" stroke-width="0.8" fill="none"/>
<polyline points="48,483.31 57.11,464.21 66.23,458.64 75.34,453.01 84.46,449.52 102.68,442.79 120.91,430.98 193.82,417.52" fill="none" stroke="#f4862e" stroke-width="1.0" stroke-linejoin="round"/>
<path d="M48 486.5L51.19 480.91L44.81 480.91Z" fill="#F47C20"/>
<path d="M57.11 467.4L60.3 461.82L53.92 461.82Z" fill="#F47C20"/>
<path d="M66.23 461.83L69.42 456.25L63.04 456.25Z" fill="#F47C20"/>
<path d="M75.34 456.2L78.53 450.62L72.15 450.62Z" fill="#F47C20"/>
<path d="M84.46 452.71L87.65 447.13L81.27 447.13Z" fill="#F47C20"/>
<path d="M102.68 445.98L105.87 440.4L99.49 440.4Z" fill="#F47C20"/>
<path d="M120.91 434.17L124.1 428.59L117.72 428.59Z" fill="#F47C20"/>
<path d="M193.82 420.71L197.01 415.12L190.63 415.12Z" fill="#F47C20"/>
<line x1="78.3" y1="457.5" x2="100.4" y2="457.5" stroke="#111111" stroke-width="1.1"/>
<rect x="87.1" y="455.4" width="4.2" height="4.2" fill="#000000"/>
<text font-size="10.5" text-anchor="start" fill="#222222" transform="translate(102.9 461.07) scale(1 1.08)">Cu-1.47Be</text>
<line x1="78.3" y1="470.5" x2="100.4" y2="470.5" stroke="#ee4a55" stroke-width="1.1"/>
<circle cx="89.2" cy="470.5" r="2.4" fill="#EE3340"/>
<text font-size="10.5" text-anchor="start" fill="#222222" transform="translate(102.9 474.07) scale(1 1.08)">Cu-1.47Be-0.62Ni</text>
<line x1="78.3" y1="483.5" x2="100.4" y2="483.5" stroke="#4a80ee" stroke-width="1.1"/>
<path d="M89.2 480.6L92.1 485.68L86.3 485.68Z" fill="#3F78EC"/>
<text font-size="10.5" text-anchor="start" fill="#222222" transform="translate(102.9 487.07) scale(1 1.08)">Cu-1.47Be-0.62Ni-0.1Mg</text>
<line x1="78.3" y1="496.5" x2="100.4" y2="496.5" stroke="#f4862e" stroke-width="1.1"/>
<path d="M89.2 499.4L92.1 494.32L86.3 494.32Z" fill="#F47C20"/>
<text font-size="10.5" text-anchor="start" fill="#222222" transform="translate(102.9 500.07) scale(1 1.08)">Cu-1.47Be-0.62Ni-0.2Mg</text>
<text font-size="11" text-anchor="middle" fill="#222222" transform="translate(127.3 528.3) scale(1 1.08)">Aging time (min)</text>
<text font-size="11" text-anchor="middle" fill="#222222" transform="translate(10.3 432) rotate(-90) scale(1 1.08)" dominant-baseline="central">Conductivity (% IACS)</text>
<rect x="260.4" y="364.7" width="181.9" height="145.8" fill="url(#gblue)"/>
<line x1="278.3" y1="511.1" x2="278.3" y2="508.1" stroke="#3c3c3c" stroke-width="0.9"/>
<text font-size="10.6" text-anchor="middle" fill="#222222" transform="translate(278.3 522.1) scale(1 1.08)">0</text>
<line x1="314.85" y1="511.1" x2="314.85" y2="508.1" stroke="#3c3c3c" stroke-width="0.9"/>
<text font-size="10.6" text-anchor="middle" fill="#222222" transform="translate(314.85 522.1) scale(1 1.08)">5</text>
<line x1="351.4" y1="511.1" x2="351.4" y2="508.1" stroke="#3c3c3c" stroke-width="0.9"/>
<text font-size="10.6" text-anchor="middle" fill="#222222" transform="translate(351.4 522.1) scale(1 1.08)">10</text>
<line x1="387.95" y1="511.1" x2="387.95" y2="508.1" stroke="#3c3c3c" stroke-width="0.9"/>
<text font-size="10.6" text-anchor="middle" fill="#222222" transform="translate(387.95 522.1) scale(1 1.08)">15</text>
<line x1="424.5" y1="511.1" x2="424.5" y2="508.1" stroke="#3c3c3c" stroke-width="0.9"/>
<text font-size="10.6" text-anchor="middle" fill="#222222" transform="translate(424.5 522.1) scale(1 1.08)">20</text>
<line x1="296.57" y1="511.1" x2="296.57" y2="509.5" stroke="#3c3c3c" stroke-width="0.9"/>
<line x1="333.12" y1="511.1" x2="333.12" y2="509.5" stroke="#3c3c3c" stroke-width="0.9"/>
<line x1="369.68" y1="511.1" x2="369.68" y2="509.5" stroke="#3c3c3c" stroke-width="0.9"/>
<line x1="406.23" y1="511.1" x2="406.23" y2="509.5" stroke="#3c3c3c" stroke-width="0.9"/>
<line x1="259.8" y1="501.2" x2="262.8" y2="501.2" stroke="#3c3c3c" stroke-width="0.9"/>
<text font-size="10.6" text-anchor="end" fill="#222222" transform="translate(256.8 504.9) scale(1 1.08)">0</text>
<line x1="259.8" y1="481.6" x2="262.8" y2="481.6" stroke="#3c3c3c" stroke-width="0.9"/>
<text font-size="10.6" text-anchor="end" fill="#222222" transform="translate(256.8 485.3) scale(1 1.08)">4</text>
<line x1="259.8" y1="462" x2="262.8" y2="462" stroke="#3c3c3c" stroke-width="0.9"/>
<text font-size="10.6" text-anchor="end" fill="#222222" transform="translate(256.8 465.7) scale(1 1.08)">8</text>
<line x1="259.8" y1="442.4" x2="262.8" y2="442.4" stroke="#3c3c3c" stroke-width="0.9"/>
<text font-size="10.6" text-anchor="end" fill="#222222" transform="translate(256.8 446.1) scale(1 1.08)">12</text>
<line x1="259.8" y1="422.8" x2="262.8" y2="422.8" stroke="#3c3c3c" stroke-width="0.9"/>
<text font-size="10.6" text-anchor="end" fill="#222222" transform="translate(256.8 426.5) scale(1 1.08)">16</text>
<line x1="259.8" y1="403.2" x2="262.8" y2="403.2" stroke="#3c3c3c" stroke-width="0.9"/>
<text font-size="10.6" text-anchor="end" fill="#222222" transform="translate(256.8 406.9) scale(1 1.08)">20</text>
<line x1="259.8" y1="383.6" x2="262.8" y2="383.6" stroke="#3c3c3c" stroke-width="0.9"/>
<text font-size="10.6" text-anchor="end" fill="#222222" transform="translate(256.8 387.3) scale(1 1.08)">24</text>
<line x1="259.8" y1="364" x2="262.8" y2="364" stroke="#3c3c3c" stroke-width="0.9"/>
<text font-size="10.6" text-anchor="end" fill="#222222" transform="translate(256.8 367.7) scale(1 1.08)">28</text>
<line x1="259.8" y1="491.4" x2="261.4" y2="491.4" stroke="#3c3c3c" stroke-width="0.9"/>
<line x1="259.8" y1="471.8" x2="261.4" y2="471.8" stroke="#3c3c3c" stroke-width="0.9"/>
<line x1="259.8" y1="452.2" x2="261.4" y2="452.2" stroke="#3c3c3c" stroke-width="0.9"/>
<line x1="259.8" y1="432.6" x2="261.4" y2="432.6" stroke="#3c3c3c" stroke-width="0.9"/>
<line x1="259.8" y1="413" x2="261.4" y2="413" stroke="#3c3c3c" stroke-width="0.9"/>
<line x1="259.8" y1="393.4" x2="261.4" y2="393.4" stroke="#3c3c3c" stroke-width="0.9"/>
<line x1="259.8" y1="373.8" x2="261.4" y2="373.8" stroke="#3c3c3c" stroke-width="0.9"/>
<path d="M259.8 363.8H443.2V511.1" fill="none" stroke="#747474" stroke-width="1.3"/>
<path d="M259.8 363.8V511.1H443.2" fill="none" stroke="#444444" stroke-width="1.1"/>
<polyline points="278.3,501.2 281.95,423 285.61,413 292.92,403.2 307.54,394.87 322.16,388.5 336.78,383.6 366.02,381.15 395.26,379.43 424.5,377.72" fill="none" stroke="#111111" stroke-width="1.0" stroke-linejoin="round"/>
<rect x="275.99" y="498.89" width="4.62" height="4.62" fill="#000000"/>
<rect x="279.64" y="420.69" width="4.62" height="4.62" fill="#000000"/>
<rect x="283.3" y="410.69" width="4.62" height="4.62" fill="#000000"/>
<rect x="290.61" y="400.89" width="4.62" height="4.62" fill="#000000"/>
<rect x="305.23" y="392.56" width="4.62" height="4.62" fill="#000000"/>
<rect x="319.85" y="386.19" width="4.62" height="4.62" fill="#000000"/>
<rect x="334.47" y="381.29" width="4.62" height="4.62" fill="#000000"/>
<rect x="363.71" y="378.84" width="4.62" height="4.62" fill="#000000"/>
<rect x="392.95" y="377.12" width="4.62" height="4.62" fill="#000000"/>
<rect x="422.19" y="375.41" width="4.62" height="4.62" fill="#000000"/>
<polyline points="278.3,501.2 281.95,464.2 285.61,456.22 292.92,453.72 307.54,451.61 322.16,449.5 336.78,447.89 366.02,445.83 395.26,444.36 424.5,443.38" fill="none" stroke="#ee4a55" stroke-width="1.0" stroke-linejoin="round"/>
<circle cx="278.3" cy="501.2" r="2.64" fill="#EE3340"/>
<circle cx="281.95" cy="464.2" r="2.64" fill="#EE3340"/>
<circle cx="285.61" cy="456.22" r="2.64" fill="#EE3340"/>
<circle cx="292.92" cy="453.72" r="2.64" fill="#EE3340"/>
<circle cx="307.54" cy="451.61" r="2.64" fill="#EE3340"/>
<circle cx="322.16" cy="449.5" r="2.64" fill="#EE3340"/>
<circle cx="336.78" cy="447.89" r="2.64" fill="#EE3340"/>
<circle cx="366.02" cy="445.83" r="2.64" fill="#EE3340"/>
<circle cx="395.26" cy="444.36" r="2.64" fill="#EE3340"/>
<circle cx="424.5" cy="443.38" r="2.64" fill="#EE3340"/>
<polyline points="278.3,501.2 281.95,479.2 285.61,474.4 292.92,469.5 307.54,467 322.16,465.28 336.78,464.2 366.02,461.9 395.26,460.48 424.5,459.79" fill="none" stroke="#4a80ee" stroke-width="1.0" stroke-linejoin="round"/>
<path d="M278.3 498.01L281.49 503.59L275.11 503.59Z" fill="#3F78EC"/>
<path d="M281.95 476.01L285.14 481.59L278.76 481.59Z" fill="#3F78EC"/>
<path d="M285.61 471.21L288.8 476.79L282.42 476.79Z" fill="#3F78EC"/>
<path d="M292.92 466.31L296.11 471.89L289.73 471.89Z" fill="#3F78EC"/>
<path d="M307.54 463.81L310.73 469.39L304.35 469.39Z" fill="#3F78EC"/>
<path d="M322.16 462.09L325.35 467.68L318.97 467.68Z" fill="#3F78EC"/>
<path d="M336.78 461.01L339.97 466.6L333.59 466.6Z" fill="#3F78EC"/>
<path d="M366.02 458.71L369.21 464.29L362.83 464.29Z" fill="#3F78EC"/>
<path d="M395.26 457.29L398.45 462.87L392.07 462.87Z" fill="#3F78EC"/>
<path d="M424.5 456.6L427.69 462.19L421.31 462.19Z" fill="#3F78EC"/>
<polyline points="278.3,501.2 281.95,477.88 285.61,472 292.92,467 307.54,464.6 322.16,462.49 336.78,461.51 366.02,459.06 395.26,457.69 424.5,457" fill="none" stroke="#f4862e" stroke-width="1.0" stroke-linejoin="round"/>
<path d="M278.3 504.39L281.49 498.81L275.11 498.81Z" fill="#F47C20"/>
<path d="M281.95 481.07L285.14 475.48L278.76 475.48Z" fill="#F47C20"/>
<path d="M285.61 475.19L288.8 469.6L282.42 469.6Z" fill="#F47C20"/>
<path d="M292.92 470.19L296.11 464.61L289.73 464.61Z" fill="#F47C20"/>
<path d="M307.54 467.79L310.73 462.2L304.35 462.2Z" fill="#F47C20"/>
<path d="M322.16 465.68L325.35 460.1L318.97 460.1Z" fill="#F47C20"/>
<path d="M336.78 464.7L339.97 459.12L333.59 459.12Z" fill="#F47C20"/>
<path d="M366.02 462.25L369.21 456.67L362.83 456.67Z" fill="#F47C20"/>
<path d="M395.26 460.88L398.45 455.3L392.07 455.3Z" fill="#F47C20"/>
<path d="M424.5 460.19L427.69 454.61L421.31 454.61Z" fill="#F47C20"/>
<line x1="312.7" y1="396.5" x2="334.4" y2="396.5" stroke="#111111" stroke-width="1.1"/>
<rect x="321.4" y="394.4" width="4.2" height="4.2" fill="#000000"/>
<text font-size="9.8" text-anchor="start" fill="#222222" transform="translate(336.7 399.83) scale(1 1.08)">Cu-1.47Be</text>
<line x1="312.7" y1="408.5" x2="334.4" y2="408.5" stroke="#ee4a55" stroke-width="1.1"/>
<circle cx="323.5" cy="408.5" r="2.4" fill="#EE3340"/>
<text font-size="9.8" text-anchor="start" fill="#222222" transform="translate(336.7 411.83) scale(1 1.08)">Cu-1.47Be-0.62Ni</text>
<line x1="312.7" y1="420.5" x2="334.4" y2="420.5" stroke="#4a80ee" stroke-width="1.1"/>
<path d="M323.5 417.6L326.4 422.68L320.6 422.68Z" fill="#3F78EC"/>
<text font-size="9.8" text-anchor="start" fill="#222222" transform="translate(336.7 423.83) scale(1 1.08)">Cu-1.47Be-0.62Ni-0.1Mg</text>
<line x1="312.7" y1="432.5" x2="334.4" y2="432.5" stroke="#f4862e" stroke-width="1.1"/>
<path d="M323.5 435.4L326.4 430.32L320.6 430.32Z" fill="#F47C20"/>
<text font-size="9.8" text-anchor="start" fill="#222222" transform="translate(336.7 435.83) scale(1 1.08)">Cu-1.47Be-0.62Ni-0.2Mg</text>
<text font-size="11" text-anchor="middle" fill="#222222" transform="translate(345.1 533) scale(1 1.08)">Time (h)</text>
<text font-size="11.2" text-anchor="middle" fill="#222222" transform="translate(241.3 435.1) rotate(-90) scale(1 1.08)" dominant-baseline="central">Stress relaxation rate (%)</text>
<text x="0" y="21.8" font-size="25" text-anchor="start" font-weight="bold" fill="#000">a</text>
<text x="226.4" y="22.7" font-size="25" text-anchor="start" font-weight="bold" fill="#000">b</text>
<text x="459.5" y="22.3" font-size="25" text-anchor="start" font-weight="bold" fill="#000">c</text>
<text x="0" y="195.1" font-size="25" text-anchor="start" font-weight="bold" fill="#000">d</text>
<text x="226" y="195.5" font-size="25" text-anchor="start" font-weight="bold" fill="#000">e</text>
<text x="460.5" y="194.9" font-size="25" text-anchor="start" font-weight="bold" fill="#000">f</text>
<text x="-0.8" y="371" font-size="25" text-anchor="start" font-weight="bold" fill="#000">g</text>
<text x="226" y="371.7" font-size="25" text-anchor="start" font-weight="bold" fill="#000">h</text>
<text x="459.5" y="371.3" font-size="25" text-anchor="start" font-weight="bold" fill="#000">i</text>
<path d="M575.2 373.8 L634.17 416.64 L611.64 485.96 L538.76 485.96 L516.23 416.64 Z" fill="url(#grad)"/>
<path d="M575.2 423.4 L586.99 431.97 L582.49 445.83 L567.91 445.83 L563.41 431.97 Z" fill="none" stroke="#9a9a9a" stroke-width="0.6"/>
<path d="M575.2 411 L598.79 428.14 L589.78 455.86 L560.62 455.86 L551.61 428.14 Z" fill="none" stroke="#9a9a9a" stroke-width="0.6"/>
<path d="M575.2 398.6 L610.58 424.3 L597.07 465.9 L553.33 465.9 L539.82 424.3 Z" fill="none" stroke="#9a9a9a" stroke-width="0.6"/>
<path d="M575.2 386.2 L622.37 420.47 L604.35 475.93 L546.05 475.93 L528.03 420.47 Z" fill="none" stroke="#9a9a9a" stroke-width="0.6"/>
<path d="M575.2 373.8 L634.17 416.64 L611.64 485.96 L538.76 485.96 L516.23 416.64 Z" fill="none" stroke="#9a9a9a" stroke-width="0.6"/>
<line x1="575.2" y1="435.8" x2="575.2" y2="373.8" stroke="#333" stroke-width="0.8"/>
<line x1="575.2" y1="435.8" x2="634.17" y2="416.64" stroke="#333" stroke-width="0.8"/>
<line x1="575.2" y1="435.8" x2="611.64" y2="485.96" stroke="#333" stroke-width="0.8"/>
<line x1="575.2" y1="435.8" x2="538.76" y2="485.96" stroke="#333" stroke-width="0.8"/>
<line x1="575.2" y1="435.8" x2="516.23" y2="416.64" stroke="#333" stroke-width="0.8"/>
<path d="M575.2 377 L623.6 419.5 L583.7 447.6 L558.2 459 L560.2 430.7 Z" fill="none" stroke="#c8982e" stroke-width="1.5" stroke-linejoin="miter"/>
<path d="M575.2 389 L604.5 426.2 L604.5 475.7 L548.8 472.3 L542.4 424.6 Z" fill="none" stroke="#3f78ec" stroke-width="1.5" stroke-linejoin="miter"/>
<path d="M575.2 385.3 L611.7 423.5 L601.2 471.2 L544.5 476.8 L533.1 421.8 Z" fill="none" stroke="#a070e8" stroke-width="1.5" stroke-linejoin="miter"/>
<path d="M575.2 379.3 L619.5 420.7 L603.4 474 L543.2 479 L527.3 420.4 Z" fill="none" stroke="#ff2020" stroke-width="1.5" stroke-linejoin="miter"/>
<circle cx="575.2" cy="379.3" r="3.4" fill="#ff1a1a"/>
<circle cx="574.3" cy="378.4" r="1.1" fill="#ffb0b0"/>
<circle cx="619.5" cy="420.7" r="3.4" fill="#ff1a1a"/>
<circle cx="618.6" cy="419.8" r="1.1" fill="#ffb0b0"/>
<circle cx="603.4" cy="474" r="3.4" fill="#ff1a1a"/>
<circle cx="602.5" cy="473.1" r="1.1" fill="#ffb0b0"/>
<circle cx="543.2" cy="479" r="3.4" fill="#ff1a1a"/>
<circle cx="542.3" cy="478.1" r="1.1" fill="#ffb0b0"/>
<circle cx="527.3" cy="420.4" r="3.4" fill="#ff1a1a"/>
<circle cx="526.4" cy="419.5" r="1.1" fill="#ffb0b0"/>
<path d="M575.2 430.2 L587 432 L611.2 484 L568.8 443.3 L563 432.2 Z" fill="none" stroke="#33ee33" stroke-width="1.5" stroke-linejoin="miter"/>
<text font-size="8.3" text-anchor="middle" fill="#222222" transform="translate(584.3 376) scale(1 1.08)">1400</text>
<text font-size="8.3" text-anchor="middle" fill="#222222" transform="translate(584.3 388.8) scale(1 1.08)">1300</text>
<text font-size="8.3" text-anchor="middle" fill="#222222" transform="translate(584.3 401.5) scale(1 1.08)">1200</text>
<text font-size="8.3" text-anchor="middle" fill="#222222" transform="translate(584.3 414) scale(1 1.08)">1100</text>
<text font-size="8.3" text-anchor="middle" fill="#222222" transform="translate(584.3 426.8) scale(1 1.08)">1000</text>
<text font-size="8.3" text-anchor="middle" fill="#222222" transform="translate(575.1 444.6) scale(1 1.08)">0</text>
<text font-size="8.3" text-anchor="middle" fill="#222222" transform="translate(589 440.7) scale(1 1.08)">350</text>
<text font-size="8.3" text-anchor="middle" fill="#222222" transform="translate(578.4 455.8) scale(1 1.08)">24</text>
<text font-size="8.3" text-anchor="middle" fill="#222222" transform="translate(567.3 463) scale(1 1.08)">80</text>
<text font-size="8.3" text-anchor="middle" fill="#222222" transform="translate(616 431.8) scale(1 1.08)">900</text>
<text font-size="8.3" text-anchor="middle" fill="#222222" transform="translate(515 425.7) scale(1 1.08)">4</text>
<text font-size="8.3" text-anchor="middle" fill="#222222" transform="translate(530.1 430.1) scale(1 1.08)">3</text>
<text font-size="8.3" text-anchor="middle" fill="#222222" transform="translate(545.1 435.2) scale(1 1.08)">2</text>
<text font-size="8.3" text-anchor="middle" fill="#222222" transform="translate(551.8 484.1) scale(1 1.08)">90</text>
<text font-size="8.3" text-anchor="middle" fill="#222222" transform="translate(591.2 472.9) scale(1 1.08)">28</text>
<text font-size="8.3" text-anchor="middle" fill="#222222" transform="translate(604 491.3) scale(1 1.08)">32</text>
<text font-size="10.9" text-anchor="middle" fill="#222222" transform="translate(583.8 365.8) scale(1 1.08)">Strength (MPa)</text>
<text font-size="10.9" text-anchor="middle" fill="#222222" transform="translate(648.1 418.2) rotate(57) scale(1 1.08)" dominant-baseline="central">Hardness (HV)</text>
<text font-size="10.9" text-anchor="middle" fill="#222222" transform="translate(496 405) rotate(-59) scale(1 1.08)" dominant-baseline="central">Cost-performance</text>
<text font-size="10.9" text-anchor="middle" fill="#222222" transform="translate(509.7 411.9) rotate(-59) scale(1 1.08)" dominant-baseline="central">ratio</text>
<text font-size="11" text-anchor="middle" fill="#222222" transform="translate(538.5 502) scale(1 1.08)">Stress relaxation</text>
<text font-size="11" text-anchor="middle" fill="#222222" transform="translate(538.5 514) scale(1 1.08)">resistance (%)</text>
<text font-size="11" text-anchor="middle" fill="#222222" transform="translate(629.5 502) scale(1 1.08)">Conductivity</text>
<text font-size="11" text-anchor="middle" fill="#222222" transform="translate(627.7 514) scale(1 1.08)">(%IACS)</text>
<line x1="434.7" y1="521.8" x2="452.4" y2="521.8" stroke="#33ee33" stroke-width="1.2"/>
<text font-size="8.5" text-anchor="start" fill="#222222" transform="translate(454.5 525.2) scale(1 1.08)">Cu-1.47Be</text>
<line x1="493.2" y1="521.8" x2="510.6" y2="521.8" stroke="#3f78ec" stroke-width="1.2"/>
<text font-size="8.5" text-anchor="start" fill="#222222" transform="translate(512.5 525.2) scale(1 1.08)">Cu-1.47Be-0.62Ni</text>
<line x1="576.8" y1="521.8" x2="593" y2="521.8" stroke="#ff2020" stroke-width="1.2"/>
<text font-size="8.5" text-anchor="start" fill="#222222" transform="translate(595.5 525.2) scale(1 1.08)">Cu-1.47Be-0.62Ni-0.1Mg</text>
<line x1="473.3" y1="533.6" x2="489.8" y2="533.6" stroke="#a070e8" stroke-width="1.2"/>
<text font-size="8.5" text-anchor="start" fill="#222222" transform="translate(492 537) scale(1 1.08)">Cu-1.47Be-0.62Ni-0.2Mg</text>
<line x1="590.1" y1="533.6" x2="606.6" y2="533.6" stroke="#c8982e" stroke-width="1.2"/>
<text font-size="8.5" text-anchor="start" fill="#222222" transform="translate(609 537) scale(1 1.08)">C17200</text></svg></body></html>
